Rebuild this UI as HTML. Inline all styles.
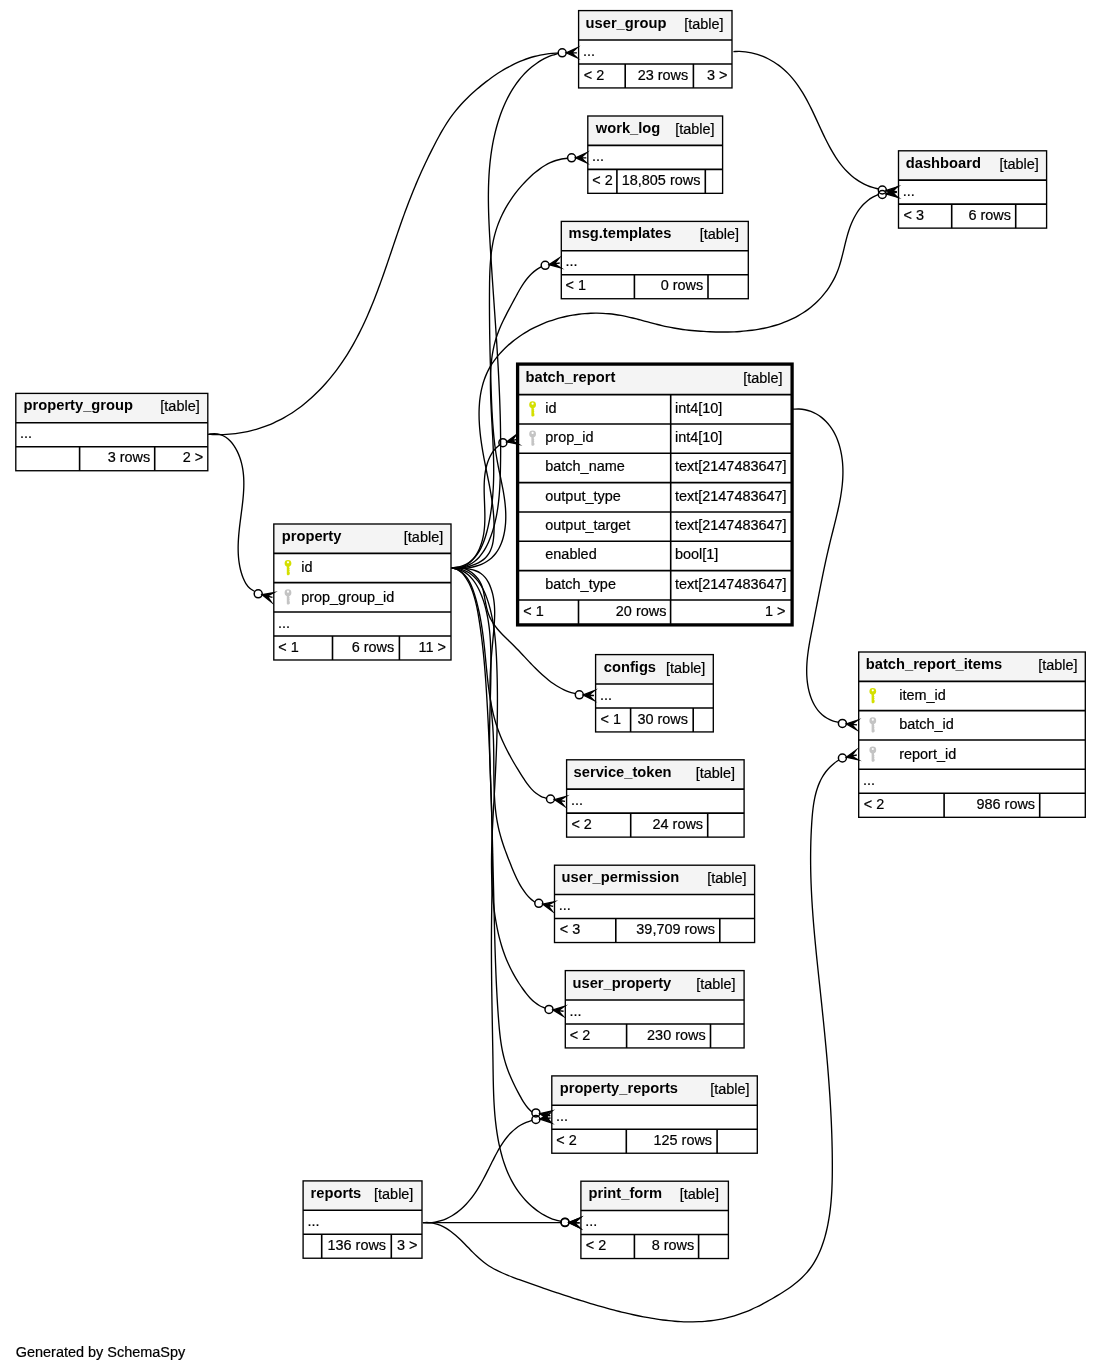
<!DOCTYPE html>
<html><head><meta charset="utf-8"><style>
html,body{margin:0;padding:0;background:#fff;}
svg{display:block;will-change:transform;}
text{font-family:"Liberation Sans",sans-serif;fill:#000;stroke:#000;stroke-width:0.2;}
text[font-weight="bold"]{stroke-width:0;}
</style></head><body>
<svg width="1101" height="1372" viewBox="0 0 1101 1372">
<rect width="1101" height="1372" fill="#fff"/>
<rect x="578.60" y="10.60" width="153.40" height="77.33" fill="#fff" stroke="none" stroke-width="0"/>
<rect x="578.60" y="10.60" width="153.40" height="29.33" fill="#f4f4f4" stroke="none" stroke-width="0"/>
<text x="585.60" y="27.60" text-anchor="start" font-size="14.7" font-weight="bold">user_group</text>
<text x="723.60" y="28.60" text-anchor="end" font-size="14.45">[table]</text>
<line x1="578.60" y1="39.93" x2="732.00" y2="39.93" stroke="#000" stroke-width="1.6"/>
<text x="582.90" y="55.63" text-anchor="start" font-size="14.45">...</text>
<line x1="578.60" y1="63.93" x2="732.00" y2="63.93" stroke="#000" stroke-width="1.6"/>
<line x1="625.20" y1="63.93" x2="625.20" y2="87.93" stroke="#000" stroke-width="1.6"/>
<line x1="693.40" y1="63.93" x2="693.40" y2="87.93" stroke="#000" stroke-width="1.6"/>
<text x="583.80" y="79.53" text-anchor="start" font-size="14.45">&lt; 2</text>
<text x="688.20" y="79.53" text-anchor="end" font-size="14.45">23 rows</text>
<text x="727.40" y="79.53" text-anchor="end" font-size="14.45">3 &gt;</text>
<rect x="578.60" y="10.60" width="153.40" height="77.33" fill="none" stroke="#000" stroke-width="1.35"/>
<rect x="587.80" y="116.00" width="134.80" height="77.33" fill="#fff" stroke="none" stroke-width="0"/>
<rect x="587.80" y="116.00" width="134.80" height="29.33" fill="#f4f4f4" stroke="none" stroke-width="0"/>
<text x="595.80" y="133.00" text-anchor="start" font-size="14.7" font-weight="bold">work_log</text>
<text x="714.60" y="134.00" text-anchor="end" font-size="14.45">[table]</text>
<line x1="587.80" y1="145.33" x2="722.60" y2="145.33" stroke="#000" stroke-width="1.6"/>
<text x="592.10" y="161.03" text-anchor="start" font-size="14.45">...</text>
<line x1="587.80" y1="169.33" x2="722.60" y2="169.33" stroke="#000" stroke-width="1.6"/>
<line x1="616.90" y1="169.33" x2="616.90" y2="193.33" stroke="#000" stroke-width="1.6"/>
<line x1="705.30" y1="169.33" x2="705.30" y2="193.33" stroke="#000" stroke-width="1.6"/>
<text x="592.30" y="184.93" text-anchor="start" font-size="14.45">&lt; 2</text>
<text x="700.40" y="184.93" text-anchor="end" font-size="14.45">18,805 rows</text>
<rect x="587.80" y="116.00" width="134.80" height="77.33" fill="none" stroke="#000" stroke-width="1.35"/>
<rect x="561.30" y="221.40" width="187.00" height="77.33" fill="#fff" stroke="none" stroke-width="0"/>
<rect x="561.30" y="221.40" width="187.00" height="29.33" fill="#f4f4f4" stroke="none" stroke-width="0"/>
<text x="568.60" y="238.40" text-anchor="start" font-size="14.7" font-weight="bold">msg.templates</text>
<text x="739.10" y="239.40" text-anchor="end" font-size="14.45">[table]</text>
<line x1="561.30" y1="250.73" x2="748.30" y2="250.73" stroke="#000" stroke-width="1.6"/>
<text x="565.60" y="266.43" text-anchor="start" font-size="14.45">...</text>
<line x1="561.30" y1="274.73" x2="748.30" y2="274.73" stroke="#000" stroke-width="1.6"/>
<line x1="634.40" y1="274.73" x2="634.40" y2="298.73" stroke="#000" stroke-width="1.6"/>
<line x1="708.00" y1="274.73" x2="708.00" y2="298.73" stroke="#000" stroke-width="1.6"/>
<text x="565.50" y="290.33" text-anchor="start" font-size="14.45">&lt; 1</text>
<text x="703.20" y="290.33" text-anchor="end" font-size="14.45">0 rows</text>
<rect x="561.30" y="221.40" width="187.00" height="77.33" fill="none" stroke="#000" stroke-width="1.35"/>
<rect x="898.50" y="150.80" width="148.10" height="77.33" fill="#fff" stroke="none" stroke-width="0"/>
<rect x="898.50" y="150.80" width="148.10" height="29.33" fill="#f4f4f4" stroke="none" stroke-width="0"/>
<text x="905.80" y="167.80" text-anchor="start" font-size="14.7" font-weight="bold">dashboard</text>
<text x="1038.80" y="168.80" text-anchor="end" font-size="14.45">[table]</text>
<line x1="898.50" y1="180.13" x2="1046.60" y2="180.13" stroke="#000" stroke-width="1.6"/>
<text x="902.80" y="195.83" text-anchor="start" font-size="14.45">...</text>
<line x1="898.50" y1="204.13" x2="1046.60" y2="204.13" stroke="#000" stroke-width="1.6"/>
<line x1="951.70" y1="204.13" x2="951.70" y2="228.13" stroke="#000" stroke-width="1.6"/>
<line x1="1015.70" y1="204.13" x2="1015.70" y2="228.13" stroke="#000" stroke-width="1.6"/>
<text x="903.60" y="219.73" text-anchor="start" font-size="14.45">&lt; 3</text>
<text x="1011.00" y="219.73" text-anchor="end" font-size="14.45">6 rows</text>
<rect x="898.50" y="150.80" width="148.10" height="77.33" fill="none" stroke="#000" stroke-width="1.35"/>
<rect x="15.80" y="393.40" width="192.00" height="77.33" fill="#fff" stroke="none" stroke-width="0"/>
<rect x="15.80" y="393.40" width="192.00" height="29.33" fill="#f4f4f4" stroke="none" stroke-width="0"/>
<text x="23.60" y="410.40" text-anchor="start" font-size="14.7" font-weight="bold">property_group</text>
<text x="199.70" y="411.40" text-anchor="end" font-size="14.45">[table]</text>
<line x1="15.80" y1="422.73" x2="207.80" y2="422.73" stroke="#000" stroke-width="1.6"/>
<text x="20.10" y="438.43" text-anchor="start" font-size="14.45">...</text>
<line x1="15.80" y1="446.73" x2="207.80" y2="446.73" stroke="#000" stroke-width="1.6"/>
<line x1="79.60" y1="446.73" x2="79.60" y2="470.73" stroke="#000" stroke-width="1.6"/>
<line x1="154.70" y1="446.73" x2="154.70" y2="470.73" stroke="#000" stroke-width="1.6"/>
<text x="150.20" y="462.33" text-anchor="end" font-size="14.45">3 rows</text>
<text x="203.20" y="462.33" text-anchor="end" font-size="14.45">2 &gt;</text>
<rect x="15.80" y="393.40" width="192.00" height="77.33" fill="none" stroke="#000" stroke-width="1.35"/>
<rect x="273.80" y="524.00" width="177.20" height="135.99" fill="#fff" stroke="none" stroke-width="0"/>
<rect x="273.80" y="524.00" width="177.20" height="29.33" fill="#f4f4f4" stroke="none" stroke-width="0"/>
<text x="281.80" y="541.00" text-anchor="start" font-size="14.7" font-weight="bold">property</text>
<text x="443.20" y="542.00" text-anchor="end" font-size="14.45">[table]</text>
<line x1="273.80" y1="553.33" x2="451.00" y2="553.33" stroke="#000" stroke-width="1.6"/>
<g fill="#d4e000"><path fill-rule="evenodd" d="M284.60,563.33 a3.4,3.4 0 1,1 6.8,0 a3.4,3.4 0 1,1 -6.8,0 z M286.90,562.33 a1.1,1.1 0 1,0 2.2,0 a1.1,1.1 0 1,0 -2.2,0 z"/><path d="M286.80,565.53 L289.20,565.53 L289.20,568.03 L289.80,568.53 L289.20,569.53 L289.80,570.53 L289.20,571.53 L289.80,572.53 L289.80,574.33 L288.60,575.13 L287.40,575.13 L286.80,574.33 z"/></g>
<text x="301.20" y="572.33" text-anchor="start" font-size="14.45">id</text>
<line x1="273.80" y1="582.66" x2="451.00" y2="582.66" stroke="#000" stroke-width="1.6"/>
<g fill="#c4c4c4"><path fill-rule="evenodd" d="M284.60,592.66 a3.4,3.4 0 1,1 6.8,0 a3.4,3.4 0 1,1 -6.8,0 z M286.90,591.66 a1.1,1.1 0 1,0 2.2,0 a1.1,1.1 0 1,0 -2.2,0 z"/><path d="M286.80,594.86 L289.20,594.86 L289.20,597.36 L289.80,597.86 L289.20,598.86 L289.80,599.86 L289.20,600.86 L289.80,601.86 L289.80,603.66 L288.60,604.46 L287.40,604.46 L286.80,603.66 z"/></g>
<text x="301.20" y="601.66" text-anchor="start" font-size="14.45">prop_group_id</text>
<line x1="273.80" y1="611.99" x2="451.00" y2="611.99" stroke="#000" stroke-width="1.6"/>
<text x="278.10" y="627.69" text-anchor="start" font-size="14.45">...</text>
<line x1="273.80" y1="635.99" x2="451.00" y2="635.99" stroke="#000" stroke-width="1.6"/>
<line x1="332.50" y1="635.99" x2="332.50" y2="659.99" stroke="#000" stroke-width="1.6"/>
<line x1="399.40" y1="635.99" x2="399.40" y2="659.99" stroke="#000" stroke-width="1.6"/>
<text x="278.20" y="651.59" text-anchor="start" font-size="14.45">&lt; 1</text>
<text x="394.20" y="651.59" text-anchor="end" font-size="14.45">6 rows</text>
<text x="446.00" y="651.59" text-anchor="end" font-size="14.45">11 &gt;</text>
<rect x="273.80" y="524.00" width="177.20" height="135.99" fill="none" stroke="#000" stroke-width="1.35"/>
<rect x="595.60" y="654.60" width="117.70" height="77.33" fill="#fff" stroke="none" stroke-width="0"/>
<rect x="595.60" y="654.60" width="117.70" height="29.33" fill="#f4f4f4" stroke="none" stroke-width="0"/>
<text x="603.80" y="671.60" text-anchor="start" font-size="14.7" font-weight="bold">configs</text>
<text x="705.40" y="672.60" text-anchor="end" font-size="14.45">[table]</text>
<line x1="595.60" y1="683.93" x2="713.30" y2="683.93" stroke="#000" stroke-width="1.6"/>
<text x="599.90" y="699.63" text-anchor="start" font-size="14.45">...</text>
<line x1="595.60" y1="707.93" x2="713.30" y2="707.93" stroke="#000" stroke-width="1.6"/>
<line x1="630.60" y1="707.93" x2="630.60" y2="731.93" stroke="#000" stroke-width="1.6"/>
<line x1="693.20" y1="707.93" x2="693.20" y2="731.93" stroke="#000" stroke-width="1.6"/>
<text x="600.50" y="723.53" text-anchor="start" font-size="14.45">&lt; 1</text>
<text x="688.00" y="723.53" text-anchor="end" font-size="14.45">30 rows</text>
<rect x="595.60" y="654.60" width="117.70" height="77.33" fill="none" stroke="#000" stroke-width="1.35"/>
<rect x="858.70" y="652.00" width="226.60" height="165.32" fill="#fff" stroke="none" stroke-width="0"/>
<rect x="858.70" y="652.00" width="226.60" height="29.33" fill="#f4f4f4" stroke="none" stroke-width="0"/>
<text x="865.80" y="669.00" text-anchor="start" font-size="14.7" font-weight="bold">batch_report_items</text>
<text x="1077.60" y="670.00" text-anchor="end" font-size="14.45">[table]</text>
<line x1="858.70" y1="681.33" x2="1085.30" y2="681.33" stroke="#000" stroke-width="1.6"/>
<g fill="#d4e000"><path fill-rule="evenodd" d="M869.40,691.33 a3.4,3.4 0 1,1 6.8,0 a3.4,3.4 0 1,1 -6.8,0 z M871.70,690.33 a1.1,1.1 0 1,0 2.2,0 a1.1,1.1 0 1,0 -2.2,0 z"/><path d="M871.60,693.53 L874.00,693.53 L874.00,696.03 L874.60,696.53 L874.00,697.53 L874.60,698.53 L874.00,699.53 L874.60,700.53 L874.60,702.33 L873.40,703.13 L872.20,703.13 L871.60,702.33 z"/></g>
<text x="899.20" y="699.93" text-anchor="start" font-size="14.45">item_id</text>
<line x1="858.70" y1="710.66" x2="1085.30" y2="710.66" stroke="#000" stroke-width="1.6"/>
<g fill="#c4c4c4"><path fill-rule="evenodd" d="M869.40,720.66 a3.4,3.4 0 1,1 6.8,0 a3.4,3.4 0 1,1 -6.8,0 z M871.70,719.66 a1.1,1.1 0 1,0 2.2,0 a1.1,1.1 0 1,0 -2.2,0 z"/><path d="M871.60,722.86 L874.00,722.86 L874.00,725.36 L874.60,725.86 L874.00,726.86 L874.60,727.86 L874.00,728.86 L874.60,729.86 L874.60,731.66 L873.40,732.46 L872.20,732.46 L871.60,731.66 z"/></g>
<text x="899.20" y="729.26" text-anchor="start" font-size="14.45">batch_id</text>
<line x1="858.70" y1="739.99" x2="1085.30" y2="739.99" stroke="#000" stroke-width="1.6"/>
<g fill="#c4c4c4"><path fill-rule="evenodd" d="M869.40,749.99 a3.4,3.4 0 1,1 6.8,0 a3.4,3.4 0 1,1 -6.8,0 z M871.70,748.99 a1.1,1.1 0 1,0 2.2,0 a1.1,1.1 0 1,0 -2.2,0 z"/><path d="M871.60,752.19 L874.00,752.19 L874.00,754.69 L874.60,755.19 L874.00,756.19 L874.60,757.19 L874.00,758.19 L874.60,759.19 L874.60,760.99 L873.40,761.79 L872.20,761.79 L871.60,760.99 z"/></g>
<text x="899.20" y="758.59" text-anchor="start" font-size="14.45">report_id</text>
<line x1="858.70" y1="769.32" x2="1085.30" y2="769.32" stroke="#000" stroke-width="1.6"/>
<text x="863.00" y="785.02" text-anchor="start" font-size="14.45">...</text>
<line x1="858.70" y1="793.32" x2="1085.30" y2="793.32" stroke="#000" stroke-width="1.6"/>
<line x1="944.10" y1="793.32" x2="944.10" y2="817.32" stroke="#000" stroke-width="1.6"/>
<line x1="1039.70" y1="793.32" x2="1039.70" y2="817.32" stroke="#000" stroke-width="1.6"/>
<text x="863.70" y="808.92" text-anchor="start" font-size="14.45">&lt; 2</text>
<text x="1035.10" y="808.92" text-anchor="end" font-size="14.45">986 rows</text>
<rect x="858.70" y="652.00" width="226.60" height="165.32" fill="none" stroke="#000" stroke-width="1.35"/>
<rect x="566.60" y="759.80" width="177.50" height="77.33" fill="#fff" stroke="none" stroke-width="0"/>
<rect x="566.60" y="759.80" width="177.50" height="29.33" fill="#f4f4f4" stroke="none" stroke-width="0"/>
<text x="573.60" y="776.80" text-anchor="start" font-size="14.7" font-weight="bold">service_token</text>
<text x="735.10" y="777.80" text-anchor="end" font-size="14.45">[table]</text>
<line x1="566.60" y1="789.13" x2="744.10" y2="789.13" stroke="#000" stroke-width="1.6"/>
<text x="570.90" y="804.83" text-anchor="start" font-size="14.45">...</text>
<line x1="566.60" y1="813.13" x2="744.10" y2="813.13" stroke="#000" stroke-width="1.6"/>
<line x1="630.70" y1="813.13" x2="630.70" y2="837.13" stroke="#000" stroke-width="1.6"/>
<line x1="707.70" y1="813.13" x2="707.70" y2="837.13" stroke="#000" stroke-width="1.6"/>
<text x="571.40" y="828.73" text-anchor="start" font-size="14.45">&lt; 2</text>
<text x="703.10" y="828.73" text-anchor="end" font-size="14.45">24 rows</text>
<rect x="566.60" y="759.80" width="177.50" height="77.33" fill="none" stroke="#000" stroke-width="1.35"/>
<rect x="554.50" y="865.20" width="200.10" height="77.33" fill="#fff" stroke="none" stroke-width="0"/>
<rect x="554.50" y="865.20" width="200.10" height="29.33" fill="#f4f4f4" stroke="none" stroke-width="0"/>
<text x="561.60" y="882.20" text-anchor="start" font-size="14.7" font-weight="bold">user_permission</text>
<text x="746.60" y="883.20" text-anchor="end" font-size="14.45">[table]</text>
<line x1="554.50" y1="894.53" x2="754.60" y2="894.53" stroke="#000" stroke-width="1.6"/>
<text x="558.80" y="910.23" text-anchor="start" font-size="14.45">...</text>
<line x1="554.50" y1="918.53" x2="754.60" y2="918.53" stroke="#000" stroke-width="1.6"/>
<line x1="615.80" y1="918.53" x2="615.80" y2="942.53" stroke="#000" stroke-width="1.6"/>
<line x1="719.80" y1="918.53" x2="719.80" y2="942.53" stroke="#000" stroke-width="1.6"/>
<text x="559.70" y="934.13" text-anchor="start" font-size="14.45">&lt; 3</text>
<text x="715.00" y="934.13" text-anchor="end" font-size="14.45">39,709 rows</text>
<rect x="554.50" y="865.20" width="200.10" height="77.33" fill="none" stroke="#000" stroke-width="1.35"/>
<rect x="565.30" y="970.60" width="178.80" height="77.33" fill="#fff" stroke="none" stroke-width="0"/>
<rect x="565.30" y="970.60" width="178.80" height="29.33" fill="#f4f4f4" stroke="none" stroke-width="0"/>
<text x="572.50" y="987.60" text-anchor="start" font-size="14.7" font-weight="bold">user_property</text>
<text x="735.50" y="988.60" text-anchor="end" font-size="14.45">[table]</text>
<line x1="565.30" y1="999.93" x2="744.10" y2="999.93" stroke="#000" stroke-width="1.6"/>
<text x="569.60" y="1015.63" text-anchor="start" font-size="14.45">...</text>
<line x1="565.30" y1="1023.93" x2="744.10" y2="1023.93" stroke="#000" stroke-width="1.6"/>
<line x1="626.60" y1="1023.93" x2="626.60" y2="1047.93" stroke="#000" stroke-width="1.6"/>
<line x1="710.50" y1="1023.93" x2="710.50" y2="1047.93" stroke="#000" stroke-width="1.6"/>
<text x="569.70" y="1039.53" text-anchor="start" font-size="14.45">&lt; 2</text>
<text x="705.70" y="1039.53" text-anchor="end" font-size="14.45">230 rows</text>
<rect x="565.30" y="970.60" width="178.80" height="77.33" fill="none" stroke="#000" stroke-width="1.35"/>
<rect x="551.80" y="1075.90" width="205.50" height="77.33" fill="#fff" stroke="none" stroke-width="0"/>
<rect x="551.80" y="1075.90" width="205.50" height="29.33" fill="#f4f4f4" stroke="none" stroke-width="0"/>
<text x="559.70" y="1092.90" text-anchor="start" font-size="14.7" font-weight="bold">property_reports</text>
<text x="749.50" y="1093.90" text-anchor="end" font-size="14.45">[table]</text>
<line x1="551.80" y1="1105.23" x2="757.30" y2="1105.23" stroke="#000" stroke-width="1.6"/>
<text x="556.10" y="1120.93" text-anchor="start" font-size="14.45">...</text>
<line x1="551.80" y1="1129.23" x2="757.30" y2="1129.23" stroke="#000" stroke-width="1.6"/>
<line x1="626.30" y1="1129.23" x2="626.30" y2="1153.23" stroke="#000" stroke-width="1.6"/>
<line x1="717.10" y1="1129.23" x2="717.10" y2="1153.23" stroke="#000" stroke-width="1.6"/>
<text x="556.30" y="1144.83" text-anchor="start" font-size="14.45">&lt; 2</text>
<text x="712.10" y="1144.83" text-anchor="end" font-size="14.45">125 rows</text>
<rect x="551.80" y="1075.90" width="205.50" height="77.33" fill="none" stroke="#000" stroke-width="1.35"/>
<rect x="303.10" y="1180.90" width="118.90" height="77.33" fill="#fff" stroke="none" stroke-width="0"/>
<rect x="303.10" y="1180.90" width="118.90" height="29.33" fill="#f4f4f4" stroke="none" stroke-width="0"/>
<text x="310.60" y="1197.90" text-anchor="start" font-size="14.7" font-weight="bold">reports</text>
<text x="413.40" y="1198.90" text-anchor="end" font-size="14.45">[table]</text>
<line x1="303.10" y1="1210.23" x2="422.00" y2="1210.23" stroke="#000" stroke-width="1.6"/>
<text x="307.40" y="1225.93" text-anchor="start" font-size="14.45">...</text>
<line x1="303.10" y1="1234.23" x2="422.00" y2="1234.23" stroke="#000" stroke-width="1.6"/>
<line x1="321.70" y1="1234.23" x2="321.70" y2="1258.23" stroke="#000" stroke-width="1.6"/>
<line x1="391.30" y1="1234.23" x2="391.30" y2="1258.23" stroke="#000" stroke-width="1.6"/>
<text x="386.10" y="1249.83" text-anchor="end" font-size="14.45">136 rows</text>
<text x="417.40" y="1249.83" text-anchor="end" font-size="14.45">3 &gt;</text>
<rect x="303.10" y="1180.90" width="118.90" height="77.33" fill="none" stroke="#000" stroke-width="1.35"/>
<rect x="580.90" y="1181.20" width="147.50" height="77.33" fill="#fff" stroke="none" stroke-width="0"/>
<rect x="580.90" y="1181.20" width="147.50" height="29.33" fill="#f4f4f4" stroke="none" stroke-width="0"/>
<text x="588.60" y="1198.20" text-anchor="start" font-size="14.7" font-weight="bold">print_form</text>
<text x="719.10" y="1199.20" text-anchor="end" font-size="14.45">[table]</text>
<line x1="580.90" y1="1210.53" x2="728.40" y2="1210.53" stroke="#000" stroke-width="1.6"/>
<text x="585.20" y="1226.23" text-anchor="start" font-size="14.45">...</text>
<line x1="580.90" y1="1234.53" x2="728.40" y2="1234.53" stroke="#000" stroke-width="1.6"/>
<line x1="634.40" y1="1234.53" x2="634.40" y2="1258.53" stroke="#000" stroke-width="1.6"/>
<line x1="698.60" y1="1234.53" x2="698.60" y2="1258.53" stroke="#000" stroke-width="1.6"/>
<text x="585.80" y="1250.13" text-anchor="start" font-size="14.45">&lt; 2</text>
<text x="694.20" y="1250.13" text-anchor="end" font-size="14.45">8 rows</text>
<rect x="580.90" y="1181.20" width="147.50" height="77.33" fill="none" stroke="#000" stroke-width="1.35"/>
<rect x="518.00" y="365.30" width="274.00" height="258.64" fill="#fff" stroke="none" stroke-width="0"/>
<rect x="518.00" y="365.30" width="274.00" height="29.33" fill="#f4f4f4" stroke="none" stroke-width="0"/>
<text x="525.50" y="382.30" text-anchor="start" font-size="14.7" font-weight="bold">batch_report</text>
<text x="782.60" y="383.30" text-anchor="end" font-size="14.45">[table]</text>
<line x1="518.00" y1="394.63" x2="792.00" y2="394.63" stroke="#000" stroke-width="1.6"/>
<g fill="#d4e000"><path fill-rule="evenodd" d="M529.20,404.63 a3.4,3.4 0 1,1 6.8,0 a3.4,3.4 0 1,1 -6.8,0 z M531.50,403.63 a1.1,1.1 0 1,0 2.2,0 a1.1,1.1 0 1,0 -2.2,0 z"/><path d="M531.40,406.83 L533.80,406.83 L533.80,409.33 L534.40,409.83 L533.80,410.83 L534.40,411.83 L533.80,412.83 L534.40,413.83 L534.40,415.63 L533.20,416.43 L532.00,416.43 L531.40,415.63 z"/></g>
<text x="545.30" y="412.73" text-anchor="start" font-size="14.45">id</text>
<text x="675.00" y="412.73" text-anchor="start" font-size="14.45">int4[10]</text>
<line x1="670.70" y1="394.63" x2="670.70" y2="423.96" stroke="#000" stroke-width="1.6"/>
<line x1="518.00" y1="423.96" x2="792.00" y2="423.96" stroke="#000" stroke-width="1.6"/>
<g fill="#c4c4c4"><path fill-rule="evenodd" d="M529.20,433.96 a3.4,3.4 0 1,1 6.8,0 a3.4,3.4 0 1,1 -6.8,0 z M531.50,432.96 a1.1,1.1 0 1,0 2.2,0 a1.1,1.1 0 1,0 -2.2,0 z"/><path d="M531.40,436.16 L533.80,436.16 L533.80,438.66 L534.40,439.16 L533.80,440.16 L534.40,441.16 L533.80,442.16 L534.40,443.16 L534.40,444.96 L533.20,445.76 L532.00,445.76 L531.40,444.96 z"/></g>
<text x="545.30" y="442.06" text-anchor="start" font-size="14.45">prop_id</text>
<text x="675.00" y="442.06" text-anchor="start" font-size="14.45">int4[10]</text>
<line x1="670.70" y1="423.96" x2="670.70" y2="453.29" stroke="#000" stroke-width="1.6"/>
<line x1="518.00" y1="453.29" x2="792.00" y2="453.29" stroke="#000" stroke-width="1.6"/>
<text x="545.30" y="471.39" text-anchor="start" font-size="14.45">batch_name</text>
<text x="675.00" y="471.39" text-anchor="start" font-size="14.45">text[2147483647]</text>
<line x1="670.70" y1="453.29" x2="670.70" y2="482.62" stroke="#000" stroke-width="1.6"/>
<line x1="518.00" y1="482.62" x2="792.00" y2="482.62" stroke="#000" stroke-width="1.6"/>
<text x="545.30" y="500.72" text-anchor="start" font-size="14.45">output_type</text>
<text x="675.00" y="500.72" text-anchor="start" font-size="14.45">text[2147483647]</text>
<line x1="670.70" y1="482.62" x2="670.70" y2="511.95" stroke="#000" stroke-width="1.6"/>
<line x1="518.00" y1="511.95" x2="792.00" y2="511.95" stroke="#000" stroke-width="1.6"/>
<text x="545.30" y="530.05" text-anchor="start" font-size="14.45">output_target</text>
<text x="675.00" y="530.05" text-anchor="start" font-size="14.45">text[2147483647]</text>
<line x1="670.70" y1="511.95" x2="670.70" y2="541.28" stroke="#000" stroke-width="1.6"/>
<line x1="518.00" y1="541.28" x2="792.00" y2="541.28" stroke="#000" stroke-width="1.6"/>
<text x="545.30" y="559.38" text-anchor="start" font-size="14.45">enabled</text>
<text x="675.00" y="559.38" text-anchor="start" font-size="14.45">bool[1]</text>
<line x1="670.70" y1="541.28" x2="670.70" y2="570.61" stroke="#000" stroke-width="1.6"/>
<line x1="518.00" y1="570.61" x2="792.00" y2="570.61" stroke="#000" stroke-width="1.6"/>
<text x="545.30" y="588.71" text-anchor="start" font-size="14.45">batch_type</text>
<text x="675.00" y="588.71" text-anchor="start" font-size="14.45">text[2147483647]</text>
<line x1="670.70" y1="570.61" x2="670.70" y2="599.94" stroke="#000" stroke-width="1.6"/>
<line x1="518.00" y1="599.94" x2="792.00" y2="599.94" stroke="#000" stroke-width="1.6"/>
<line x1="578.50" y1="599.94" x2="578.50" y2="623.94" stroke="#000" stroke-width="1.6"/>
<line x1="670.60" y1="599.94" x2="670.60" y2="623.94" stroke="#000" stroke-width="1.6"/>
<text x="523.30" y="615.54" text-anchor="start" font-size="14.45">&lt; 1</text>
<text x="666.40" y="615.54" text-anchor="end" font-size="14.45">20 rows</text>
<text x="785.40" y="615.54" text-anchor="end" font-size="14.45">1 &gt;</text>
<rect x="517.60" y="364.10" width="274.50" height="260.80" fill="none" stroke="#000" stroke-width="3.3"/>
<text x="15.80" y="1357.00" text-anchor="start" font-size="14.45">Generated by SchemaSpy</text>
<g fill="none" stroke="#000" stroke-width="1.35">
<path d="M451.80,567.90 C453.81,567.90 455.83,568.06 457.83,567.89 C459.82,567.72 461.83,567.39 463.75,566.87 C465.68,566.34 467.59,565.61 469.37,564.72 C471.16,563.82 472.88,562.72 474.46,561.50 C476.05,560.29 477.52,558.88 478.88,557.42 C480.25,555.95 481.49,554.35 482.64,552.71 C483.79,551.07 484.83,549.33 485.80,547.58 C486.77,545.82 487.64,544.01 488.46,542.17 C489.28,540.34 490.02,538.47 490.73,536.59 C491.43,534.71 492.07,532.80 492.67,530.89 C493.27,528.97 493.82,527.04 494.34,525.09 C494.85,523.15 495.31,521.19 495.74,519.23 C496.17,517.27 496.55,515.30 496.90,513.32 C497.25,511.34 497.56,509.35 497.85,507.37 C498.13,505.38 498.38,503.38 498.60,501.39 C498.83,499.39 499.02,497.39 499.19,495.39 C499.36,493.39 499.51,491.38 499.64,489.38 C499.77,487.37 499.87,485.37 499.97,483.36 C500.06,481.35 500.14,479.34 500.21,477.34 C500.27,475.33 500.33,473.32 500.38,471.31 C500.42,469.30 500.46,467.29 500.50,465.29 C500.54,463.28 500.56,461.27 500.59,459.26 C500.61,457.25 500.63,455.24 500.64,453.23 C500.65,451.22 500.65,449.21 500.65,447.21 C500.65,445.20 500.65,443.19 500.63,441.18 C500.62,439.17 500.60,437.16 500.58,435.15 C500.56,433.14 500.53,431.13 500.50,429.12 C500.47,427.12 500.43,425.11 500.39,423.10 C500.35,421.09 500.30,419.08 500.25,417.07 C500.20,415.06 500.14,413.06 500.08,411.05 C500.02,409.04 499.95,407.03 499.88,405.02 C499.82,403.02 499.74,401.01 499.67,399.00 C499.59,396.99 499.51,394.99 499.42,392.98 C499.34,390.97 499.25,388.96 499.16,386.96 C499.07,384.95 498.98,382.94 498.88,380.94 C498.78,378.93 498.68,376.92 498.58,374.92 C498.47,372.91 498.37,370.90 498.26,368.90 C498.15,366.89 498.03,364.89 497.92,362.88 C497.81,360.87 497.69,358.87 497.57,356.86 C497.45,354.86 497.33,352.85 497.21,350.85 C497.08,348.84 496.96,346.84 496.83,344.83 C496.70,342.83 496.58,340.82 496.45,338.82 C496.32,336.81 496.18,334.81 496.05,332.80 C495.92,330.80 495.78,328.79 495.65,326.79 C495.51,324.78 495.38,322.78 495.24,320.77 C495.10,318.77 494.97,316.77 494.83,314.76 C494.69,312.76 494.55,310.75 494.41,308.75 C494.27,306.74 494.14,304.74 494.00,302.74 C493.86,300.73 493.72,298.73 493.58,296.72 C493.44,294.72 493.30,292.71 493.16,290.71 C493.02,288.71 492.89,286.70 492.75,284.70 C492.61,282.69 492.47,280.69 492.34,278.68 C492.20,276.68 492.07,274.67 491.93,272.67 C491.80,270.67 491.67,268.66 491.54,266.66 C491.41,264.65 491.28,262.65 491.15,260.64 C491.02,258.64 490.89,256.63 490.77,254.63 C490.64,252.62 490.52,250.62 490.40,248.61 C490.28,246.60 490.16,244.60 490.04,242.59 C489.93,240.59 489.81,238.58 489.70,236.58 C489.59,234.57 489.48,232.56 489.38,230.56 C489.28,228.55 489.18,226.54 489.09,224.54 C489.00,222.53 488.91,220.52 488.83,218.52 C488.76,216.51 488.69,214.50 488.63,212.49 C488.57,210.48 488.52,208.47 488.48,206.47 C488.44,204.46 488.42,202.45 488.40,200.44 C488.39,198.43 488.38,196.42 488.40,194.41 C488.41,192.40 488.44,190.39 488.48,188.39 C488.52,186.38 488.58,184.37 488.66,182.36 C488.73,180.35 488.83,178.35 488.94,176.34 C489.05,174.33 489.19,172.33 489.34,170.33 C489.49,168.32 489.66,166.32 489.86,164.32 C490.06,162.32 490.27,160.33 490.52,158.33 C490.76,156.34 491.03,154.34 491.32,152.36 C491.61,150.37 491.92,148.38 492.27,146.41 C492.61,144.43 492.98,142.45 493.38,140.48 C493.78,138.51 494.20,136.55 494.66,134.59 C495.12,132.64 495.60,130.69 496.12,128.74 C496.63,126.80 497.17,124.87 497.75,122.94 C498.33,121.02 498.94,119.10 499.58,117.20 C500.23,115.30 500.91,113.41 501.62,111.53 C502.34,109.65 503.09,107.79 503.88,105.94 C504.68,104.10 505.51,102.27 506.39,100.46 C507.26,98.65 508.18,96.86 509.14,95.10 C510.10,93.34 511.11,91.59 512.16,89.89 C513.22,88.18 514.32,86.49 515.47,84.85 C516.62,83.20 517.81,81.58 519.06,80.01 C520.31,78.44 521.61,76.90 522.96,75.42 C524.31,73.93 525.71,72.48 527.16,71.10 C528.61,69.71 530.12,68.37 531.66,67.09 C533.21,65.81 534.81,64.59 536.46,63.44 C538.11,62.29 539.80,61.20 541.54,60.20 C543.28,59.20 545.07,58.27 546.89,57.43 C548.71,56.59 550.58,55.83 552.48,55.17 C554.37,54.51 556.33,54.04 558.26,53.47"/>
<path d="M451.80,567.90 C453.80,568.06 455.80,568.32 457.80,568.38 C459.81,568.45 461.82,568.41 463.82,568.28 C465.82,568.14 467.83,567.91 469.81,567.58 C471.78,567.24 473.76,566.81 475.68,566.26 C477.61,565.71 479.52,565.06 481.36,564.27 C483.20,563.48 485.02,562.58 486.72,561.52 C488.41,560.46 490.06,559.26 491.54,557.93 C493.03,556.59 494.40,555.08 495.63,553.51 C496.85,551.93 497.94,550.22 498.91,548.46 C499.88,546.71 500.70,544.86 501.43,543.00 C502.16,541.13 502.77,539.21 503.29,537.27 C503.81,535.34 504.23,533.36 504.57,531.39 C504.92,529.41 505.17,527.41 505.37,525.42 C505.56,523.42 505.68,521.41 505.74,519.40 C505.80,517.40 505.80,515.39 505.74,513.38 C505.69,511.37 505.57,509.37 505.41,507.37 C505.26,505.36 505.05,503.37 504.81,501.37 C504.56,499.38 504.27,497.39 503.96,495.41 C503.65,493.42 503.31,491.45 502.95,489.47 C502.59,487.49 502.20,485.52 501.80,483.55 C501.41,481.59 501.00,479.62 500.59,477.65 C500.18,475.69 499.76,473.72 499.35,471.76 C498.95,469.79 498.54,467.82 498.15,465.85 C497.77,463.88 497.39,461.91 497.04,459.93 C496.69,457.96 496.37,455.97 496.06,453.99 C495.75,452.01 495.47,450.02 495.20,448.03 C494.93,446.04 494.68,444.04 494.45,442.05 C494.22,440.05 494.01,438.06 493.81,436.06 C493.61,434.06 493.43,432.06 493.26,430.06 C493.09,428.06 492.93,426.06 492.79,424.05 C492.64,422.05 492.51,420.05 492.39,418.04 C492.27,416.04 492.15,414.03 492.05,412.03 C491.95,410.02 491.85,408.02 491.76,406.01 C491.67,404.00 491.59,402.00 491.51,399.99 C491.43,397.98 491.35,395.98 491.28,393.97 C491.21,391.96 491.14,389.96 491.07,387.95 C491.00,385.94 490.94,383.94 490.87,381.93 C490.81,379.92 490.75,377.91 490.68,375.91 C490.62,373.90 490.56,371.89 490.51,369.89 C490.45,367.88 490.39,365.87 490.34,363.86 C490.29,361.86 490.23,359.85 490.18,357.84 C490.14,355.83 490.09,353.83 490.04,351.82 C490.00,349.81 489.96,347.80 489.92,345.80 C489.88,343.79 489.84,341.78 489.80,339.77 C489.77,337.76 489.73,335.76 489.70,333.75 C489.67,331.74 489.65,329.73 489.62,327.72 C489.60,325.72 489.57,323.71 489.56,321.70 C489.54,319.69 489.52,317.68 489.51,315.68 C489.49,313.67 489.48,311.66 489.48,309.65 C489.47,307.64 489.47,305.64 489.46,303.63 C489.46,301.62 489.47,299.61 489.47,297.60 C489.48,295.59 489.48,293.59 489.50,291.58 C489.51,289.57 489.52,287.56 489.55,285.55 C489.57,283.55 489.59,281.54 489.64,279.53 C489.68,277.52 489.73,275.52 489.80,273.51 C489.87,271.50 489.95,269.49 490.06,267.49 C490.17,265.48 490.30,263.48 490.46,261.48 C490.62,259.48 490.80,257.48 491.02,255.48 C491.24,253.48 491.48,251.49 491.78,249.50 C492.07,247.52 492.39,245.53 492.76,243.56 C493.13,241.59 493.54,239.62 494.01,237.67 C494.47,235.71 494.98,233.77 495.54,231.84 C496.11,229.92 496.73,228.00 497.40,226.11 C498.07,224.22 498.80,222.35 499.57,220.49 C500.34,218.64 501.16,216.81 502.03,215.00 C502.90,213.19 503.82,211.40 504.78,209.63 C505.74,207.87 506.74,206.13 507.79,204.42 C508.83,202.70 509.92,201.01 511.04,199.35 C512.17,197.68 513.33,196.05 514.53,194.44 C515.73,192.83 516.97,191.24 518.24,189.69 C519.51,188.14 520.82,186.61 522.16,185.11 C523.50,183.62 524.87,182.15 526.27,180.71 C527.68,179.28 529.11,177.87 530.58,176.50 C532.05,175.14 533.55,173.80 535.10,172.52 C536.64,171.24 538.22,169.99 539.86,168.83 C541.49,167.66 543.17,166.55 544.89,165.53 C546.62,164.51 548.40,163.55 550.22,162.72 C552.04,161.88 553.92,161.13 555.82,160.51 C557.73,159.89 559.68,159.38 561.65,159.01 C563.62,158.64 565.64,158.52 567.63,158.28"/>
<path d="M451.80,567.90 C453.82,567.66 455.87,567.59 457.85,567.18 C459.83,566.76 461.81,566.18 463.67,565.40 C465.54,564.61 467.36,563.63 469.02,562.49 C470.69,561.35 472.25,559.99 473.67,558.55 C475.09,557.11 476.37,555.50 477.53,553.84 C478.70,552.19 479.73,550.41 480.67,548.61 C481.61,546.82 482.43,544.95 483.20,543.07 C483.96,541.18 484.62,539.26 485.24,537.32 C485.86,535.39 486.41,533.42 486.92,531.46 C487.44,529.49 487.90,527.51 488.34,525.53 C488.78,523.54 489.18,521.55 489.56,519.55 C489.94,517.55 490.28,515.55 490.60,513.54 C490.92,511.53 491.21,509.52 491.48,507.51 C491.75,505.49 491.98,503.47 492.20,501.45 C492.41,499.43 492.60,497.40 492.76,495.38 C492.92,493.35 493.06,491.32 493.18,489.29 C493.30,487.26 493.40,485.23 493.47,483.20 C493.55,481.17 493.61,479.13 493.65,477.10 C493.69,475.07 493.71,473.04 493.71,471.00 C493.72,468.97 493.71,466.94 493.68,464.90 C493.66,462.87 493.62,460.84 493.57,458.80 C493.52,456.77 493.46,454.74 493.39,452.71 C493.32,450.68 493.24,448.64 493.15,446.61 C493.06,444.58 492.97,442.55 492.87,440.52 C492.77,438.49 492.66,436.46 492.56,434.43 C492.45,432.40 492.34,430.37 492.22,428.34 C492.11,426.31 492.00,424.28 491.89,422.25 C491.77,420.22 491.66,418.19 491.55,416.16 C491.45,414.13 491.34,412.10 491.24,410.07 C491.14,408.04 491.05,406.01 490.96,403.97 C490.87,401.94 490.79,399.91 490.72,397.88 C490.65,395.85 490.59,393.82 490.54,391.78 C490.49,389.75 490.45,387.72 490.44,385.68 C490.42,383.65 490.42,381.62 490.45,379.59 C490.47,377.55 490.51,375.52 490.59,373.49 C490.67,371.46 490.77,369.43 490.92,367.40 C491.06,365.37 491.23,363.34 491.45,361.32 C491.67,359.30 491.92,357.28 492.22,355.27 C492.53,353.26 492.88,351.26 493.28,349.27 C493.68,347.27 494.13,345.29 494.65,343.32 C495.16,341.36 495.73,339.40 496.35,337.47 C496.98,335.53 497.67,333.62 498.40,331.72 C499.13,329.83 499.92,327.95 500.73,326.09 C501.55,324.23 502.41,322.38 503.29,320.55 C504.16,318.71 505.07,316.90 506.00,315.08 C506.92,313.27 507.87,311.47 508.82,309.68 C509.77,307.88 510.74,306.09 511.70,304.30 C512.66,302.51 513.62,300.72 514.59,298.93 C515.55,297.14 516.50,295.34 517.48,293.56 C518.47,291.78 519.45,290.00 520.50,288.26 C521.55,286.52 522.62,284.78 523.77,283.11 C524.92,281.44 526.12,279.79 527.42,278.23 C528.72,276.67 530.09,275.15 531.56,273.75 C533.03,272.36 534.59,271.03 536.24,269.85 C537.89,268.68 539.71,267.74 541.45,266.69"/>
<path d="M451.80,567.90 C453.81,567.96 455.83,568.15 457.84,568.09 C459.85,568.02 461.87,567.82 463.86,567.51 C465.84,567.21 467.83,566.78 469.76,566.24 C471.70,565.69 473.62,565.03 475.47,564.23 C477.31,563.43 479.13,562.51 480.81,561.41 C482.49,560.32 484.14,559.08 485.54,557.66 C486.95,556.25 488.22,554.62 489.25,552.91 C490.27,551.19 491.05,549.29 491.69,547.39 C492.33,545.49 492.75,543.49 493.10,541.51 C493.45,539.53 493.64,537.52 493.80,535.51 C493.96,533.50 494.01,531.48 494.05,529.47 C494.09,527.45 494.07,525.43 494.02,523.42 C493.97,521.40 493.88,519.39 493.76,517.38 C493.64,515.37 493.47,513.36 493.28,511.35 C493.09,509.34 492.87,507.34 492.62,505.34 C492.37,503.34 492.09,501.34 491.79,499.35 C491.49,497.36 491.17,495.37 490.83,493.38 C490.49,491.39 490.13,489.41 489.76,487.43 C489.40,485.45 489.01,483.47 488.62,481.49 C488.24,479.51 487.84,477.53 487.44,475.56 C487.04,473.58 486.64,471.61 486.24,469.63 C485.84,467.66 485.44,465.68 485.05,463.70 C484.66,461.72 484.28,459.75 483.91,457.76 C483.54,455.78 483.17,453.80 482.83,451.81 C482.49,449.83 482.15,447.84 481.84,445.85 C481.53,443.86 481.24,441.86 480.97,439.86 C480.70,437.87 480.45,435.87 480.23,433.86 C480.01,431.86 479.82,429.85 479.65,427.84 C479.49,425.83 479.35,423.82 479.26,421.81 C479.16,419.80 479.09,417.78 479.07,415.76 C479.05,413.75 479.06,411.73 479.12,409.72 C479.18,407.70 479.29,405.69 479.45,403.68 C479.60,401.67 479.81,399.66 480.08,397.67 C480.34,395.67 480.66,393.68 481.05,391.70 C481.44,389.72 481.88,387.75 482.40,385.80 C482.91,383.86 483.49,381.92 484.15,380.02 C484.81,378.12 485.54,376.23 486.34,374.38 C487.14,372.54 488.02,370.72 488.98,368.94 C489.93,367.17 490.96,365.43 492.06,363.74 C493.16,362.05 494.33,360.41 495.55,358.81 C496.78,357.21 498.07,355.65 499.39,354.14 C500.72,352.62 502.11,351.15 503.52,349.72 C504.94,348.29 506.41,346.90 507.90,345.55 C509.40,344.21 510.94,342.90 512.51,341.63 C514.07,340.37 515.68,339.14 517.31,337.96 C518.94,336.78 520.61,335.64 522.29,334.54 C523.98,333.44 525.70,332.38 527.44,331.37 C529.19,330.36 530.95,329.38 532.74,328.45 C534.53,327.52 536.34,326.64 538.17,325.79 C540.00,324.94 541.85,324.14 543.71,323.38 C545.58,322.61 547.46,321.89 549.36,321.21 C551.26,320.54 553.17,319.90 555.10,319.30 C557.02,318.71 558.96,318.16 560.91,317.65 C562.86,317.14 564.83,316.68 566.80,316.25 C568.77,315.83 570.75,315.45 572.74,315.12 C574.72,314.78 576.72,314.49 578.72,314.24 C580.72,313.99 582.73,313.79 584.74,313.63 C586.74,313.47 588.76,313.35 590.77,313.28 C592.79,313.20 594.80,313.17 596.82,313.19 C598.83,313.20 600.85,313.26 602.86,313.36 C604.88,313.46 606.89,313.60 608.89,313.79 C610.90,313.98 612.90,314.21 614.90,314.48 C616.90,314.76 618.89,315.08 620.87,315.44 C622.86,315.79 624.83,316.20 626.80,316.62 C628.77,317.05 630.73,317.51 632.69,317.99 C634.65,318.47 636.60,318.97 638.55,319.48 C640.50,319.99 642.45,320.52 644.39,321.04 C646.34,321.57 648.28,322.10 650.23,322.62 C652.18,323.14 654.13,323.66 656.08,324.16 C658.04,324.65 659.99,325.14 661.95,325.60 C663.92,326.05 665.89,326.48 667.86,326.89 C669.84,327.29 671.82,327.66 673.80,328.01 C675.79,328.36 677.78,328.68 679.77,328.98 C681.77,329.28 683.76,329.55 685.76,329.80 C687.76,330.04 689.77,330.27 691.77,330.47 C693.78,330.67 695.79,330.85 697.80,331.01 C699.81,331.17 701.82,331.31 703.83,331.43 C705.84,331.56 707.85,331.66 709.87,331.75 C711.88,331.84 713.90,331.91 715.91,331.96 C717.93,332.00 719.94,332.03 721.96,332.04 C723.97,332.05 725.99,332.03 728.00,331.99 C730.02,331.96 732.04,331.89 734.05,331.81 C736.06,331.72 738.08,331.60 740.09,331.46 C742.10,331.32 744.11,331.15 746.11,330.94 C748.12,330.74 750.12,330.51 752.12,330.24 C754.11,329.97 756.11,329.67 758.10,329.34 C760.08,329.00 762.07,328.63 764.04,328.22 C766.01,327.80 767.98,327.35 769.93,326.86 C771.88,326.36 773.83,325.83 775.76,325.25 C777.69,324.66 779.61,324.04 781.50,323.36 C783.40,322.69 785.29,321.97 787.15,321.19 C789.01,320.42 790.85,319.59 792.66,318.71 C794.47,317.83 796.27,316.90 798.02,315.92 C799.78,314.93 801.51,313.89 803.20,312.79 C804.89,311.70 806.55,310.54 808.16,309.34 C809.77,308.13 811.35,306.87 812.88,305.56 C814.41,304.24 815.89,302.88 817.33,301.46 C818.77,300.05 820.16,298.59 821.50,297.09 C822.84,295.58 824.13,294.03 825.37,292.44 C826.61,290.85 827.79,289.22 828.92,287.55 C830.05,285.88 831.12,284.16 832.13,282.42 C833.13,280.67 834.08,278.89 834.96,277.08 C835.83,275.27 836.64,273.41 837.39,271.54 C838.13,269.67 838.79,267.76 839.42,265.85 C840.05,263.93 840.60,261.99 841.14,260.05 C841.68,258.11 842.17,256.15 842.66,254.20 C843.15,252.24 843.60,250.28 844.08,248.32 C844.55,246.36 845.01,244.40 845.50,242.44 C845.99,240.49 846.48,238.53 847.03,236.59 C847.57,234.65 848.14,232.71 848.77,230.80 C849.40,228.89 850.07,226.98 850.81,225.11 C851.56,223.24 852.35,221.38 853.23,219.57 C854.10,217.75 855.04,215.96 856.08,214.23 C857.11,212.51 858.22,210.81 859.43,209.20 C860.64,207.60 861.94,206.04 863.34,204.59 C864.73,203.15 866.23,201.78 867.82,200.54 C869.40,199.30 871.09,198.17 872.83,197.18 C874.58,196.19 876.48,195.46 878.30,194.60"/>
<path d="M451.80,567.90 C453.81,567.89 455.86,568.15 457.83,567.88 C459.81,567.61 461.82,567.06 463.65,566.28 C465.48,565.50 467.24,564.41 468.83,563.19 C470.42,561.98 471.86,560.51 473.17,558.99 C474.47,557.47 475.62,555.78 476.67,554.07 C477.72,552.35 478.62,550.53 479.44,548.69 C480.26,546.85 480.95,544.95 481.56,543.03 C482.17,541.11 482.67,539.15 483.09,537.18 C483.51,535.21 483.82,533.21 484.08,531.22 C484.34,529.22 484.51,527.21 484.64,525.19 C484.77,523.18 484.83,521.17 484.86,519.15 C484.90,517.13 484.88,515.12 484.85,513.10 C484.82,511.09 484.75,509.07 484.68,507.06 C484.62,505.04 484.53,503.03 484.46,501.01 C484.38,499.00 484.30,496.98 484.25,494.96 C484.20,492.95 484.15,490.93 484.15,488.92 C484.15,486.90 484.17,484.88 484.25,482.87 C484.34,480.86 484.45,478.84 484.66,476.83 C484.86,474.83 485.11,472.82 485.47,470.84 C485.83,468.86 486.27,466.88 486.82,464.95 C487.38,463.02 488.03,461.09 488.82,459.24 C489.60,457.39 490.49,455.56 491.54,453.85 C492.59,452.14 493.77,450.46 495.10,448.97 C496.44,447.47 498.06,446.24 499.54,444.88"/>
<path d="M451.80,567.90 C453.80,567.70 455.80,567.22 457.79,567.29 C459.78,567.36 461.82,567.75 463.72,568.34 C465.63,568.93 467.50,569.81 469.22,570.82 C470.94,571.84 472.58,573.08 474.06,574.43 C475.53,575.78 476.90,577.31 478.08,578.93 C479.25,580.55 480.27,582.33 481.10,584.15 C481.94,585.97 482.53,587.92 483.06,589.86 C483.60,591.79 483.94,593.79 484.32,595.77 C484.70,597.75 484.97,599.74 485.35,601.72 C485.73,603.70 486.09,605.69 486.59,607.64 C487.09,609.59 487.64,611.53 488.33,613.42 C489.02,615.31 489.81,617.18 490.72,618.97 C491.63,620.76 492.68,622.49 493.80,624.16 C494.93,625.83 496.17,627.42 497.45,628.97 C498.74,630.52 500.11,632.00 501.49,633.46 C502.88,634.93 504.33,636.33 505.76,637.74 C507.20,639.16 508.67,640.53 510.11,641.94 C511.56,643.34 513.00,644.75 514.42,646.18 C515.84,647.61 517.23,649.06 518.62,650.52 C520.01,651.98 521.39,653.45 522.76,654.92 C524.14,656.39 525.51,657.87 526.89,659.34 C528.27,660.81 529.64,662.28 531.03,663.74 C532.43,665.19 533.82,666.64 535.25,668.07 C536.67,669.50 538.10,670.91 539.57,672.30 C541.03,673.68 542.51,675.04 544.04,676.36 C545.56,677.68 547.10,678.98 548.69,680.21 C550.28,681.45 551.90,682.65 553.57,683.78 C555.23,684.91 556.94,685.99 558.69,686.99 C560.43,687.99 562.22,688.93 564.05,689.77 C565.87,690.62 567.75,691.39 569.64,692.05 C571.54,692.72 573.50,693.20 575.43,693.78"/>
<path d="M451.80,567.90 C453.73,568.50 455.77,568.84 457.58,569.69 C459.39,570.54 461.13,571.69 462.65,572.99 C464.18,574.28 465.53,575.85 466.74,577.45 C467.95,579.06 468.97,580.84 469.91,582.62 C470.85,584.41 471.64,586.29 472.38,588.16 C473.13,590.04 473.76,591.97 474.38,593.90 C474.99,595.82 475.54,597.77 476.08,599.72 C476.62,601.67 477.13,603.63 477.61,605.60 C478.09,607.56 478.54,609.53 478.97,611.51 C479.40,613.49 479.80,615.47 480.18,617.46 C480.56,619.45 480.91,621.44 481.25,623.43 C481.58,625.43 481.89,627.43 482.19,629.43 C482.49,631.43 482.76,633.43 483.03,635.44 C483.29,637.45 483.53,639.45 483.77,641.46 C484.00,643.47 484.22,645.48 484.44,647.50 C484.65,649.51 484.85,651.52 485.05,653.54 C485.25,655.55 485.44,657.56 485.63,659.58 C485.82,661.59 486.01,663.61 486.20,665.62 C486.40,667.63 486.59,669.65 486.79,671.66 C486.99,673.67 487.19,675.69 487.41,677.70 C487.63,679.71 487.85,681.72 488.09,683.73 C488.33,685.74 488.58,687.75 488.86,689.75 C489.13,691.76 489.42,693.76 489.73,695.76 C490.04,697.76 490.37,699.75 490.73,701.74 C491.09,703.73 491.47,705.72 491.89,707.70 C492.30,709.68 492.74,711.66 493.22,713.62 C493.70,715.59 494.21,717.55 494.76,719.49 C495.31,721.44 495.89,723.38 496.52,725.30 C497.14,727.23 497.81,729.14 498.52,731.03 C499.22,732.93 499.97,734.81 500.74,736.68 C501.52,738.55 502.33,740.40 503.17,742.24 C504.01,744.08 504.88,745.91 505.78,747.72 C506.67,749.54 507.60,751.34 508.54,753.13 C509.49,754.91 510.46,756.69 511.45,758.46 C512.43,760.22 513.44,761.98 514.47,763.72 C515.49,765.46 516.53,767.20 517.59,768.92 C518.65,770.65 519.72,772.37 520.80,774.08 C521.88,775.79 522.96,777.50 524.08,779.19 C525.20,780.87 526.31,782.57 527.52,784.18 C528.73,785.80 529.97,787.42 531.34,788.89 C532.71,790.37 534.17,791.82 535.75,793.05 C537.34,794.29 539.06,795.43 540.86,796.32 C542.65,797.21 544.65,797.70 546.55,798.40"/>
<path d="M451.80,567.90 C453.81,567.91 455.81,567.86 457.82,567.92 C459.82,567.98 461.83,568.06 463.82,568.26 C465.82,568.46 467.82,568.71 469.78,569.12 C471.73,569.54 473.71,570.02 475.57,570.75 C477.42,571.48 479.29,572.35 480.91,573.49 C482.53,574.62 484.03,576.05 485.30,577.57 C486.58,579.09 487.61,580.86 488.55,582.62 C489.49,584.39 490.24,586.27 490.92,588.15 C491.61,590.03 492.17,591.97 492.65,593.91 C493.12,595.86 493.49,597.84 493.79,599.82 C494.09,601.80 494.29,603.80 494.44,605.80 C494.58,607.80 494.64,609.81 494.67,611.81 C494.69,613.82 494.65,615.83 494.58,617.83 C494.51,619.83 494.39,621.84 494.26,623.84 C494.13,625.84 493.97,627.84 493.80,629.84 C493.63,631.84 493.45,633.84 493.27,635.83 C493.09,637.83 492.90,639.83 492.72,641.83 C492.54,643.82 492.35,645.82 492.17,647.82 C491.99,649.82 491.81,651.82 491.64,653.81 C491.48,655.81 491.31,657.81 491.16,659.81 C491.01,661.81 490.86,663.81 490.73,665.82 C490.61,667.82 490.49,669.82 490.39,671.82 C490.29,673.83 490.21,675.83 490.15,677.84 C490.09,679.84 490.05,681.85 490.03,683.85 C490.01,685.86 490.02,687.87 490.05,689.87 C490.08,691.88 490.14,693.88 490.23,695.89 C490.32,697.89 490.44,699.89 490.58,701.89 C490.72,703.89 490.90,705.89 491.08,707.89 C491.26,709.89 491.47,711.88 491.66,713.88 C491.85,715.88 492.06,717.87 492.23,719.87 C492.41,721.87 492.58,723.87 492.73,725.87 C492.87,727.87 492.99,729.87 493.10,731.88 C493.21,733.88 493.30,735.88 493.37,737.89 C493.45,739.89 493.51,741.90 493.56,743.90 C493.61,745.91 493.65,747.91 493.68,749.92 C493.72,751.92 493.74,753.93 493.76,755.94 C493.78,757.94 493.79,759.95 493.80,761.95 C493.81,763.96 493.82,765.97 493.83,767.97 C493.84,769.98 493.85,771.98 493.86,773.99 C493.88,776.00 493.90,778.00 493.93,780.01 C493.96,782.01 493.99,784.02 494.05,786.02 C494.10,788.03 494.16,790.04 494.24,792.04 C494.32,794.04 494.42,796.05 494.54,798.05 C494.66,800.05 494.80,802.05 494.96,804.05 C495.13,806.05 495.32,808.05 495.54,810.04 C495.76,812.04 496.01,814.03 496.29,816.01 C496.58,818.00 496.90,819.98 497.26,821.95 C497.62,823.93 498.02,825.89 498.46,827.85 C498.90,829.81 499.38,831.75 499.90,833.69 C500.42,835.63 500.98,837.56 501.56,839.48 C502.15,841.39 502.77,843.30 503.41,845.20 C504.05,847.10 504.72,849.00 505.40,850.88 C506.09,852.77 506.79,854.64 507.51,856.52 C508.23,858.39 508.96,860.26 509.70,862.12 C510.44,863.99 511.18,865.85 511.95,867.71 C512.71,869.56 513.48,871.41 514.29,873.25 C515.10,875.08 515.92,876.92 516.80,878.72 C517.69,880.52 518.59,882.31 519.58,884.06 C520.56,885.81 521.58,887.54 522.69,889.20 C523.80,890.87 524.97,892.51 526.24,894.06 C527.50,895.61 528.84,897.13 530.29,898.51 C531.73,899.89 533.37,901.07 534.91,902.35"/>
<path d="M451.80,567.90 C453.81,568.08 455.85,568.08 457.82,568.44 C459.79,568.80 461.77,569.32 463.64,570.04 C465.51,570.76 467.34,571.69 469.03,572.76 C470.72,573.83 472.33,575.11 473.80,576.47 C475.27,577.83 476.61,579.36 477.86,580.94 C479.10,582.52 480.21,584.22 481.25,585.94 C482.28,587.67 483.21,589.47 484.07,591.29 C484.92,593.11 485.69,594.99 486.41,596.87 C487.12,598.75 487.76,600.67 488.37,602.59 C488.97,604.51 489.51,606.46 490.02,608.41 C490.53,610.35 491.00,612.32 491.43,614.29 C491.87,616.25 492.26,618.23 492.63,620.21 C493.00,622.19 493.33,624.18 493.63,626.18 C493.94,628.17 494.21,630.17 494.46,632.17 C494.71,634.17 494.92,636.17 495.12,638.18 C495.32,640.18 495.50,642.19 495.65,644.20 C495.81,646.21 495.95,648.22 496.07,650.23 C496.20,652.25 496.30,654.26 496.41,656.27 C496.51,658.29 496.59,660.30 496.68,662.31 C496.76,664.33 496.83,666.34 496.90,668.36 C496.97,670.37 497.03,672.39 497.09,674.40 C497.14,676.42 497.19,678.43 497.23,680.45 C497.27,682.46 497.30,684.48 497.33,686.49 C497.36,688.51 497.38,690.53 497.40,692.54 C497.41,694.56 497.42,696.57 497.43,698.59 C497.43,700.60 497.43,702.62 497.42,704.64 C497.41,706.65 497.40,708.67 497.38,710.68 C497.36,712.70 497.34,714.72 497.31,716.73 C497.28,718.75 497.25,720.76 497.21,722.78 C497.17,724.79 497.13,726.81 497.08,728.82 C497.04,730.84 496.99,732.85 496.93,734.87 C496.87,736.88 496.81,738.90 496.75,740.91 C496.69,742.93 496.62,744.94 496.55,746.96 C496.48,748.97 496.40,750.99 496.32,753.00 C496.24,755.02 496.16,757.03 496.08,759.04 C495.99,761.06 495.90,763.07 495.81,765.09 C495.72,767.10 495.63,769.11 495.53,771.13 C495.43,773.14 495.33,775.15 495.23,777.17 C495.13,779.18 495.03,781.19 494.92,783.21 C494.82,785.22 494.71,787.23 494.60,789.25 C494.49,791.26 494.38,793.27 494.26,795.28 C494.15,797.30 494.04,799.31 493.92,801.32 C493.81,803.33 493.69,805.35 493.57,807.36 C493.46,809.37 493.35,811.38 493.23,813.40 C493.12,815.41 493.01,817.42 492.91,819.44 C492.80,821.45 492.69,823.46 492.60,825.48 C492.50,827.49 492.40,829.50 492.31,831.52 C492.22,833.53 492.14,835.54 492.06,837.56 C491.98,839.57 491.91,841.59 491.85,843.60 C491.78,845.62 491.73,847.63 491.68,849.65 C491.64,851.66 491.60,853.68 491.57,855.69 C491.54,857.71 491.52,859.73 491.52,861.74 C491.51,863.76 491.52,865.77 491.54,867.79 C491.56,869.80 491.59,871.82 491.63,873.84 C491.68,875.85 491.74,877.87 491.81,879.88 C491.88,881.89 491.97,883.91 492.08,885.92 C492.18,887.93 492.31,889.95 492.45,891.96 C492.59,893.97 492.74,895.98 492.92,897.99 C493.09,900.00 493.29,902.00 493.50,904.01 C493.72,906.01 493.95,908.01 494.21,910.01 C494.47,912.01 494.74,914.01 495.04,916.00 C495.34,918.00 495.66,919.99 496.01,921.97 C496.36,923.96 496.72,925.94 497.12,927.92 C497.52,929.89 497.94,931.86 498.39,933.83 C498.85,935.79 499.33,937.75 499.85,939.70 C500.36,941.65 500.91,943.59 501.50,945.52 C502.08,947.44 502.70,949.36 503.36,951.27 C504.02,953.17 504.71,955.07 505.45,956.94 C506.18,958.82 506.96,960.68 507.77,962.53 C508.58,964.37 509.44,966.20 510.33,968.01 C511.22,969.82 512.14,971.61 513.11,973.38 C514.07,975.15 515.07,976.90 516.11,978.63 C517.14,980.36 518.21,982.07 519.31,983.75 C520.42,985.44 521.56,987.11 522.73,988.74 C523.90,990.38 525.10,992.01 526.36,993.58 C527.61,995.16 528.89,996.73 530.28,998.19 C531.66,999.64 533.11,1001.07 534.67,1002.33 C536.24,1003.59 537.91,1004.77 539.66,1005.73 C541.42,1006.70 543.36,1007.32 545.21,1008.11"/>
<path d="M451.80,567.90 C453.73,568.46 455.82,568.69 457.58,569.58 C459.34,570.47 460.95,571.84 462.37,573.24 C463.78,574.65 464.95,576.35 466.06,578.03 C467.18,579.70 468.12,581.50 469.03,583.30 C469.94,585.10 470.76,586.95 471.51,588.82 C472.27,590.69 472.94,592.60 473.56,594.51 C474.18,596.43 474.73,598.38 475.25,600.33 C475.76,602.28 476.21,604.25 476.64,606.22 C477.07,608.19 477.44,610.17 477.81,612.16 C478.17,614.14 478.50,616.13 478.83,618.13 C479.15,620.12 479.46,622.11 479.76,624.11 C480.06,626.10 480.35,628.10 480.62,630.10 C480.90,632.10 481.17,634.10 481.42,636.10 C481.68,638.10 481.93,640.10 482.16,642.11 C482.40,644.11 482.63,646.12 482.84,648.12 C483.06,650.13 483.27,652.14 483.47,654.14 C483.67,656.15 483.87,658.16 484.05,660.17 C484.24,662.18 484.42,664.19 484.59,666.20 C484.76,668.21 484.92,670.22 485.08,672.23 C485.24,674.24 485.39,676.26 485.54,678.27 C485.69,680.28 485.83,682.29 485.97,684.31 C486.10,686.32 486.24,688.33 486.37,690.35 C486.49,692.36 486.62,694.38 486.74,696.39 C486.86,698.40 486.98,700.42 487.10,702.43 C487.21,704.45 487.33,706.46 487.44,708.48 C487.55,710.49 487.66,712.51 487.76,714.52 C487.87,716.54 487.98,718.55 488.08,720.57 C488.18,722.58 488.28,724.60 488.38,726.61 C488.48,728.63 488.58,730.64 488.67,732.66 C488.77,734.68 488.86,736.69 488.95,738.71 C489.04,740.72 489.13,742.74 489.22,744.76 C489.31,746.77 489.40,748.79 489.48,750.80 C489.57,752.82 489.65,754.84 489.73,756.85 C489.81,758.87 489.89,760.88 489.97,762.90 C490.05,764.92 490.12,766.93 490.20,768.95 C490.27,770.97 490.35,772.98 490.42,775.00 C490.49,777.02 490.56,779.03 490.63,781.05 C490.70,783.07 490.77,785.08 490.84,787.10 C490.91,789.12 490.97,791.13 491.04,793.15 C491.10,795.17 491.17,797.18 491.23,799.20 C491.29,801.22 491.35,803.23 491.42,805.25 C491.48,807.27 491.54,809.29 491.59,811.30 C491.65,813.32 491.71,815.34 491.77,817.35 C491.83,819.37 491.88,821.39 491.94,823.40 C491.99,825.42 492.05,827.44 492.10,829.46 C492.15,831.47 492.21,833.49 492.26,835.51 C492.31,837.53 492.37,839.54 492.42,841.56 C492.47,843.58 492.52,845.59 492.57,847.61 C492.62,849.63 492.67,851.65 492.72,853.66 C492.77,855.68 492.82,857.70 492.87,859.72 C492.92,861.73 492.96,863.75 493.01,865.77 C493.06,867.78 493.11,869.80 493.16,871.82 C493.20,873.84 493.25,875.85 493.30,877.87 C493.35,879.89 493.39,881.91 493.44,883.92 C493.49,885.94 493.53,887.96 493.58,889.97 C493.63,891.99 493.68,894.01 493.72,896.03 C493.77,898.04 493.82,900.06 493.87,902.08 C493.91,904.10 493.96,906.11 494.01,908.13 C494.06,910.15 494.11,912.17 494.15,914.18 C494.20,916.20 494.25,918.22 494.30,920.23 C494.35,922.25 494.40,924.27 494.45,926.29 C494.50,928.30 494.55,930.32 494.60,932.34 C494.66,934.36 494.71,936.37 494.77,938.39 C494.82,940.41 494.88,942.42 494.93,944.44 C494.99,946.46 495.05,948.48 495.11,950.49 C495.18,952.51 495.24,954.53 495.31,956.54 C495.37,958.56 495.44,960.58 495.51,962.59 C495.58,964.61 495.66,966.63 495.74,968.64 C495.81,970.66 495.89,972.67 495.98,974.69 C496.06,976.71 496.15,978.72 496.24,980.74 C496.33,982.75 496.43,984.77 496.53,986.79 C496.63,988.80 496.73,990.82 496.84,992.83 C496.95,994.85 497.06,996.86 497.18,998.88 C497.29,1000.89 497.42,1002.90 497.54,1004.92 C497.67,1006.93 497.80,1008.95 497.94,1010.96 C498.08,1012.97 498.22,1014.98 498.37,1017.00 C498.52,1019.01 498.68,1021.02 498.84,1023.03 C499.01,1025.04 499.17,1027.05 499.37,1029.06 C499.56,1031.07 499.76,1033.08 499.99,1035.08 C500.22,1037.09 500.47,1039.09 500.75,1041.09 C501.04,1043.09 501.35,1045.08 501.70,1047.07 C502.05,1049.06 502.43,1051.04 502.86,1053.01 C503.30,1054.98 503.77,1056.94 504.29,1058.89 C504.81,1060.84 505.39,1062.78 506.01,1064.70 C506.62,1066.62 507.29,1068.52 508.00,1070.41 C508.71,1072.30 509.46,1074.18 510.24,1076.04 C511.02,1077.90 511.84,1079.74 512.68,1081.57 C513.53,1083.41 514.41,1085.22 515.31,1087.03 C516.21,1088.83 517.14,1090.62 518.09,1092.40 C519.04,1094.18 520.00,1095.96 521.01,1097.71 C522.01,1099.46 523.00,1101.23 524.11,1102.91 C525.22,1104.59 526.37,1106.26 527.69,1107.78 C529.00,1109.30 530.56,1110.61 532.00,1112.02"/>
<path d="M451.80,567.90 C453.77,568.28 455.80,568.46 457.70,569.04 C459.61,569.62 461.49,570.41 463.24,571.37 C464.98,572.33 466.64,573.52 468.16,574.81 C469.68,576.10 471.08,577.57 472.36,579.11 C473.65,580.64 474.79,582.30 475.86,583.99 C476.93,585.68 477.88,587.46 478.78,589.26 C479.67,591.05 480.46,592.90 481.22,594.75 C481.97,596.61 482.66,598.50 483.30,600.40 C483.94,602.30 484.52,604.22 485.06,606.15 C485.60,608.08 486.09,610.03 486.53,611.98 C486.98,613.94 487.37,615.91 487.74,617.88 C488.10,619.85 488.41,621.83 488.70,623.82 C488.98,625.80 489.23,627.79 489.45,629.79 C489.67,631.78 489.85,633.78 490.01,635.78 C490.17,637.77 490.31,639.78 490.42,641.78 C490.53,643.78 490.62,645.78 490.69,647.79 C490.76,649.79 490.81,651.80 490.85,653.80 C490.89,655.81 490.92,657.81 490.93,659.82 C490.95,661.83 490.95,663.83 490.95,665.84 C490.94,667.84 490.93,669.85 490.91,671.85 C490.89,673.86 490.86,675.86 490.83,677.87 C490.80,679.87 490.76,681.88 490.72,683.88 C490.67,685.89 490.62,687.89 490.57,689.90 C490.52,691.90 490.47,693.91 490.41,695.91 C490.36,697.92 490.30,699.92 490.24,701.93 C490.19,703.93 490.13,705.94 490.08,707.94 C490.02,709.95 489.97,711.95 489.92,713.96 C489.87,715.96 489.82,717.97 489.78,719.97 C489.74,721.98 489.70,723.98 489.67,725.99 C489.64,727.99 489.61,730.00 489.60,732.00 C489.58,734.01 489.57,736.01 489.57,738.02 C489.57,740.03 489.58,742.03 489.60,744.04 C489.62,746.04 489.65,748.05 489.68,750.05 C489.71,752.06 489.76,754.06 489.80,756.07 C489.85,758.07 489.90,760.08 489.96,762.08 C490.01,764.09 490.08,766.09 490.14,768.10 C490.20,770.10 490.27,772.11 490.34,774.11 C490.41,776.12 490.48,778.12 490.55,780.12 C490.62,782.13 490.69,784.13 490.77,786.14 C490.84,788.14 490.91,790.15 490.98,792.15 C491.06,794.15 491.13,796.16 491.20,798.16 C491.27,800.17 491.34,802.17 491.41,804.18 C491.47,806.18 491.54,808.18 491.60,810.19 C491.67,812.19 491.73,814.20 491.78,816.20 C491.84,818.21 491.90,820.21 491.95,822.22 C492.00,824.22 492.05,826.23 492.09,828.23 C492.13,830.24 492.17,832.24 492.20,834.25 C492.24,836.25 492.26,838.26 492.29,840.26 C492.31,842.27 492.33,844.27 492.34,846.28 C492.35,848.29 492.36,850.29 492.36,852.30 C492.36,854.30 492.36,856.31 492.35,858.31 C492.34,860.32 492.33,862.32 492.32,864.33 C492.31,866.34 492.29,868.34 492.27,870.35 C492.25,872.35 492.23,874.36 492.21,876.36 C492.18,878.37 492.16,880.37 492.13,882.38 C492.10,884.38 492.07,886.39 492.04,888.39 C492.01,890.40 491.98,892.41 491.95,894.41 C491.92,896.42 491.88,898.42 491.85,900.43 C491.82,902.43 491.79,904.44 491.76,906.44 C491.73,908.45 491.70,910.45 491.67,912.46 C491.64,914.46 491.61,916.47 491.59,918.47 C491.57,920.48 491.54,922.49 491.52,924.49 C491.50,926.50 491.48,928.50 491.47,930.51 C491.45,932.51 491.44,934.52 491.43,936.52 C491.43,938.53 491.42,940.54 491.42,942.54 C491.41,944.55 491.41,946.55 491.42,948.56 C491.42,950.56 491.42,952.57 491.43,954.57 C491.44,956.58 491.45,958.59 491.46,960.59 C491.47,962.60 491.49,964.60 491.50,966.61 C491.52,968.61 491.54,970.62 491.56,972.62 C491.58,974.63 491.60,976.63 491.62,978.64 C491.64,980.65 491.67,982.65 491.69,984.66 C491.72,986.66 491.75,988.67 491.78,990.67 C491.81,992.68 491.84,994.68 491.87,996.69 C491.90,998.69 491.93,1000.70 491.96,1002.70 C491.99,1004.71 492.03,1006.71 492.06,1008.72 C492.10,1010.73 492.13,1012.73 492.17,1014.74 C492.20,1016.74 492.24,1018.75 492.27,1020.75 C492.31,1022.76 492.34,1024.76 492.38,1026.77 C492.42,1028.77 492.45,1030.78 492.49,1032.78 C492.52,1034.79 492.56,1036.79 492.59,1038.80 C492.63,1040.80 492.66,1042.81 492.70,1044.81 C492.73,1046.82 492.77,1048.82 492.80,1050.83 C492.83,1052.84 492.86,1054.84 492.90,1056.85 C492.93,1058.85 492.96,1060.86 492.99,1062.86 C493.02,1064.87 493.04,1066.87 493.07,1068.88 C493.10,1070.88 493.13,1072.89 493.16,1074.89 C493.19,1076.90 493.23,1078.90 493.27,1080.91 C493.31,1082.92 493.36,1084.92 493.41,1086.92 C493.46,1088.93 493.52,1090.93 493.60,1092.94 C493.67,1094.94 493.75,1096.95 493.84,1098.95 C493.93,1100.95 494.04,1102.96 494.16,1104.96 C494.28,1106.96 494.41,1108.96 494.56,1110.96 C494.71,1112.96 494.88,1114.96 495.07,1116.96 C495.25,1118.95 495.46,1120.95 495.69,1122.94 C495.92,1124.93 496.16,1126.92 496.44,1128.91 C496.71,1130.90 497.01,1132.88 497.33,1134.86 C497.65,1136.84 498.00,1138.82 498.38,1140.79 C498.76,1142.75 499.16,1144.72 499.60,1146.68 C500.04,1148.63 500.50,1150.59 501.00,1152.53 C501.51,1154.47 502.04,1156.40 502.61,1158.32 C503.19,1160.24 503.80,1162.16 504.45,1164.05 C505.11,1165.95 505.80,1167.83 506.55,1169.69 C507.29,1171.55 508.08,1173.40 508.93,1175.22 C509.77,1177.04 510.66,1178.84 511.60,1180.61 C512.55,1182.37 513.54,1184.12 514.60,1185.82 C515.65,1187.53 516.75,1189.21 517.91,1190.85 C519.07,1192.48 520.28,1194.09 521.54,1195.64 C522.80,1197.20 524.11,1198.72 525.48,1200.19 C526.84,1201.66 528.25,1203.09 529.72,1204.45 C531.18,1205.82 532.70,1207.14 534.26,1208.40 C535.83,1209.65 537.44,1210.85 539.11,1211.96 C540.77,1213.08 542.48,1214.14 544.23,1215.11 C545.99,1216.07 547.79,1216.97 549.63,1217.76 C551.47,1218.56 553.35,1219.27 555.26,1219.87 C557.17,1220.47 559.15,1220.87 561.09,1221.37"/>
<path d="M208.30,434.30 C210.32,434.40 212.33,434.56 214.35,434.61 C216.37,434.67 218.40,434.69 220.42,434.65 C222.44,434.62 224.46,434.54 226.47,434.42 C228.49,434.30 230.51,434.13 232.51,433.92 C234.52,433.71 236.53,433.46 238.53,433.16 C240.53,432.86 242.52,432.52 244.50,432.13 C246.49,431.75 248.46,431.32 250.43,430.84 C252.39,430.37 254.35,429.85 256.29,429.29 C258.23,428.73 260.16,428.13 262.07,427.48 C263.98,426.83 265.89,426.14 267.77,425.40 C269.65,424.66 271.51,423.88 273.36,423.05 C275.20,422.23 277.03,421.36 278.83,420.45 C280.63,419.54 282.42,418.58 284.18,417.59 C285.94,416.60 287.68,415.57 289.39,414.50 C291.11,413.43 292.80,412.33 294.47,411.19 C296.14,410.06 297.79,408.88 299.41,407.68 C301.03,406.48 302.63,405.24 304.21,403.97 C305.78,402.71 307.34,401.41 308.86,400.09 C310.39,398.77 311.90,397.42 313.38,396.04 C314.86,394.67 316.31,393.26 317.75,391.84 C319.18,390.41 320.59,388.96 321.97,387.49 C323.36,386.02 324.72,384.53 326.06,383.01 C327.39,381.50 328.71,379.96 330.00,378.41 C331.29,376.86 332.56,375.28 333.81,373.69 C335.05,372.10 336.27,370.49 337.47,368.86 C338.67,367.23 339.85,365.59 341.00,363.93 C342.15,362.27 343.28,360.60 344.39,358.91 C345.50,357.22 346.59,355.51 347.66,353.80 C348.72,352.08 349.77,350.35 350.79,348.61 C351.82,346.87 352.82,345.11 353.80,343.35 C354.79,341.58 355.75,339.81 356.70,338.02 C357.64,336.24 358.57,334.44 359.48,332.64 C360.39,330.83 361.28,329.02 362.16,327.20 C363.04,325.38 363.90,323.55 364.74,321.71 C365.58,319.88 366.41,318.03 367.23,316.18 C368.04,314.33 368.84,312.48 369.63,310.62 C370.42,308.76 371.19,306.89 371.96,305.02 C372.72,303.15 373.47,301.27 374.21,299.39 C374.95,297.51 375.68,295.63 376.40,293.74 C377.13,291.85 377.84,289.96 378.54,288.06 C379.24,286.17 379.94,284.27 380.63,282.37 C381.32,280.47 382.00,278.57 382.67,276.67 C383.35,274.76 384.02,272.85 384.68,270.95 C385.35,269.04 386.01,267.13 386.67,265.22 C387.32,263.31 387.98,261.39 388.63,259.48 C389.28,257.57 389.93,255.65 390.58,253.74 C391.22,251.83 391.87,249.91 392.52,248.00 C393.17,246.08 393.81,244.17 394.46,242.25 C395.11,240.34 395.76,238.43 396.41,236.51 C397.07,234.60 397.72,232.69 398.38,230.78 C399.04,228.87 399.70,226.96 400.37,225.05 C401.04,223.14 401.71,221.24 402.39,219.34 C403.07,217.43 403.75,215.53 404.44,213.63 C405.13,211.73 405.83,209.84 406.54,207.94 C407.25,206.05 407.96,204.16 408.69,202.27 C409.42,200.39 410.15,198.51 410.89,196.63 C411.64,194.75 412.39,192.87 413.16,191.00 C413.92,189.13 414.69,187.26 415.47,185.40 C416.26,183.54 417.05,181.68 417.85,179.82 C418.65,177.97 419.47,176.12 420.29,174.27 C421.11,172.43 421.94,170.58 422.78,168.75 C423.63,166.91 424.48,165.08 425.34,163.25 C426.20,161.42 427.08,159.60 427.96,157.78 C428.84,155.96 429.73,154.15 430.64,152.34 C431.54,150.54 432.46,148.73 433.38,146.94 C434.30,145.14 435.24,143.35 436.18,141.56 C437.13,139.78 438.08,137.99 439.05,136.22 C440.03,134.45 441.01,132.69 442.03,130.94 C443.04,129.19 444.07,127.45 445.13,125.73 C446.20,124.02 447.29,122.31 448.42,120.64 C449.54,118.96 450.71,117.30 451.90,115.68 C453.10,114.05 454.34,112.45 455.61,110.88 C456.88,109.31 458.19,107.77 459.52,106.25 C460.85,104.73 462.22,103.24 463.61,101.77 C465.00,100.31 466.42,98.87 467.87,97.46 C469.31,96.04 470.78,94.65 472.27,93.29 C473.76,91.92 475.27,90.58 476.81,89.27 C478.34,87.95 479.89,86.65 481.46,85.38 C483.03,84.11 484.61,82.85 486.22,81.62 C487.82,80.39 489.44,79.19 491.08,78.00 C492.72,76.82 494.38,75.67 496.06,74.54 C497.73,73.42 499.43,72.32 501.15,71.26 C502.87,70.19 504.61,69.16 506.37,68.17 C508.13,67.18 509.91,66.22 511.71,65.30 C513.51,64.39 515.33,63.51 517.18,62.68 C519.02,61.85 520.88,61.06 522.76,60.33 C524.64,59.59 526.54,58.90 528.46,58.26 C530.38,57.63 532.32,57.04 534.27,56.52 C536.22,55.99 538.18,55.52 540.16,55.11 C542.14,54.70 544.13,54.34 546.13,54.06 C548.13,53.77 550.14,53.54 552.16,53.38 C554.17,53.22 556.19,53.19 558.21,53.09"/>
<path d="M208.30,434.30 C210.32,434.07 212.35,433.55 214.36,433.60 C216.38,433.65 218.47,433.96 220.38,434.57 C222.30,435.18 224.18,436.14 225.86,437.25 C227.55,438.37 229.09,439.78 230.48,441.25 C231.88,442.72 233.11,444.38 234.24,446.07 C235.36,447.76 236.35,449.57 237.25,451.39 C238.15,453.22 238.94,455.11 239.64,457.03 C240.34,458.94 240.94,460.90 241.45,462.87 C241.97,464.84 242.38,466.85 242.72,468.86 C243.05,470.86 243.30,472.90 243.48,474.93 C243.66,476.96 243.76,479.00 243.81,481.04 C243.86,483.07 243.84,485.12 243.79,487.16 C243.73,489.19 243.62,491.23 243.48,493.27 C243.34,495.30 243.16,497.34 242.96,499.37 C242.76,501.40 242.53,503.42 242.29,505.45 C242.05,507.47 241.78,509.50 241.52,511.52 C241.26,513.54 240.99,515.57 240.73,517.59 C240.47,519.61 240.20,521.64 239.96,523.66 C239.71,525.69 239.47,527.71 239.26,529.74 C239.05,531.77 238.85,533.80 238.68,535.83 C238.52,537.87 238.38,539.90 238.29,541.94 C238.20,543.98 238.14,546.02 238.14,548.06 C238.14,550.10 238.18,552.14 238.29,554.18 C238.40,556.21 238.56,558.25 238.81,560.27 C239.05,562.30 239.36,564.32 239.76,566.32 C240.15,568.32 240.62,570.31 241.19,572.27 C241.76,574.22 242.37,576.18 243.16,578.06 C243.94,579.93 244.80,581.83 245.90,583.52 C247.00,585.22 248.29,586.88 249.78,588.23 C251.27,589.58 253.16,590.49 254.85,591.62"/>
<path d="M733.40,51.60 C735.42,51.54 737.44,51.37 739.46,51.41 C741.48,51.44 743.50,51.59 745.51,51.82 C747.51,52.06 749.51,52.40 751.49,52.83 C753.46,53.25 755.42,53.78 757.35,54.38 C759.27,54.98 761.18,55.68 763.05,56.45 C764.91,57.22 766.75,58.07 768.55,58.99 C770.35,59.91 772.11,60.91 773.83,61.98 C775.54,63.05 777.22,64.19 778.84,65.39 C780.46,66.59 782.04,67.86 783.56,69.19 C785.09,70.52 786.56,71.91 787.97,73.35 C789.39,74.79 790.75,76.29 792.06,77.83 C793.37,79.37 794.63,80.95 795.85,82.57 C797.06,84.18 798.23,85.84 799.35,87.51 C800.48,89.19 801.56,90.90 802.61,92.63 C803.66,94.36 804.67,96.11 805.66,97.87 C806.64,99.64 807.60,101.42 808.53,103.22 C809.46,105.01 810.37,106.82 811.26,108.63 C812.16,110.44 813.03,112.27 813.89,114.09 C814.76,115.92 815.61,117.76 816.46,119.59 C817.31,121.42 818.15,123.26 818.99,125.10 C819.84,126.94 820.68,128.77 821.54,130.60 C822.40,132.44 823.25,134.27 824.13,136.09 C825.01,137.91 825.90,139.72 826.81,141.53 C827.73,143.33 828.66,145.13 829.62,146.90 C830.59,148.68 831.57,150.45 832.60,152.19 C833.63,153.93 834.68,155.65 835.79,157.34 C836.90,159.03 838.04,160.70 839.24,162.33 C840.44,163.96 841.68,165.56 842.99,167.10 C844.29,168.64 845.65,170.14 847.07,171.58 C848.49,173.02 849.97,174.40 851.51,175.71 C853.05,177.01 854.65,178.26 856.31,179.41 C857.97,180.56 859.69,181.64 861.45,182.62 C863.22,183.60 865.04,184.50 866.89,185.29 C868.75,186.09 870.65,186.79 872.58,187.40 C874.50,188.02 876.48,188.44 878.44,188.96"/>
<path d="M792.90,409.20 C794.93,409.13 796.97,408.91 798.99,408.99 C801.01,409.08 803.06,409.32 805.04,409.73 C807.03,410.13 809.00,410.70 810.90,411.40 C812.80,412.11 814.66,412.99 816.42,413.98 C818.19,414.97 819.89,416.12 821.49,417.36 C823.10,418.60 824.62,419.97 826.03,421.43 C827.45,422.88 828.77,424.44 829.99,426.07 C831.20,427.69 832.31,429.41 833.33,431.16 C834.35,432.92 835.27,434.74 836.10,436.59 C836.94,438.44 837.68,440.35 838.34,442.27 C839.01,444.19 839.58,446.14 840.09,448.11 C840.60,450.08 841.03,452.07 841.40,454.07 C841.76,456.06 842.06,458.08 842.29,460.10 C842.52,462.12 842.69,464.15 842.79,466.18 C842.90,468.21 842.94,470.24 842.94,472.28 C842.93,474.31 842.87,476.34 842.76,478.37 C842.65,480.40 842.49,482.43 842.29,484.45 C842.09,486.48 841.85,488.50 841.58,490.51 C841.30,492.53 840.99,494.54 840.65,496.54 C840.31,498.54 839.94,500.54 839.55,502.54 C839.16,504.53 838.74,506.52 838.30,508.51 C837.87,510.50 837.42,512.48 836.95,514.46 C836.49,516.44 836.01,518.41 835.52,520.39 C835.04,522.36 834.54,524.34 834.04,526.31 C833.55,528.28 833.04,530.25 832.55,532.22 C832.05,534.19 831.55,536.16 831.06,538.14 C830.57,540.11 830.09,542.09 829.61,544.06 C829.14,546.04 828.67,548.02 828.21,550.00 C827.75,551.98 827.30,553.96 826.85,555.95 C826.41,557.93 825.97,559.92 825.53,561.90 C825.10,563.89 824.67,565.88 824.25,567.87 C823.83,569.86 823.41,571.85 823.00,573.84 C822.59,575.83 822.18,577.82 821.78,579.81 C821.37,581.81 820.97,583.80 820.57,585.79 C820.18,587.79 819.78,589.78 819.39,591.78 C819.00,593.77 818.61,595.77 818.22,597.76 C817.83,599.76 817.45,601.76 817.06,603.75 C816.68,605.75 816.29,607.75 815.91,609.74 C815.52,611.74 815.14,613.74 814.75,615.73 C814.37,617.73 813.98,619.73 813.59,621.72 C813.21,623.72 812.82,625.71 812.43,627.71 C812.04,629.70 811.64,631.70 811.25,633.69 C810.87,635.69 810.48,637.69 810.11,639.69 C809.75,641.69 809.39,643.69 809.06,645.70 C808.73,647.70 808.41,649.71 808.14,651.72 C807.86,653.74 807.60,655.76 807.40,657.78 C807.19,659.80 807.02,661.83 806.90,663.86 C806.78,665.89 806.70,667.92 806.69,669.95 C806.68,671.99 806.71,674.02 806.82,676.05 C806.93,678.08 807.10,680.11 807.35,682.13 C807.60,684.14 807.91,686.16 808.31,688.15 C808.72,690.14 809.19,692.13 809.78,694.07 C810.36,696.01 811.02,697.95 811.81,699.82 C812.60,701.69 813.49,703.53 814.51,705.28 C815.53,707.03 816.67,708.75 817.95,710.32 C819.22,711.89 820.64,713.39 822.16,714.71 C823.69,716.04 825.37,717.24 827.11,718.26 C828.86,719.28 830.74,720.13 832.64,720.82 C834.55,721.50 836.57,721.85 838.53,722.37"/>
<path d="M422.90,1222.60 L561.00,1222.60"/>
<path d="M422.90,1222.60 C424.93,1222.65 426.96,1222.83 428.98,1222.75 C431.00,1222.68 433.03,1222.46 435.02,1222.12 C437.01,1221.78 439.00,1221.31 440.93,1220.71 C442.86,1220.12 444.77,1219.39 446.62,1218.56 C448.46,1217.74 450.27,1216.78 452.01,1215.75 C453.75,1214.72 455.44,1213.58 457.06,1212.38 C458.69,1211.17 460.26,1209.87 461.76,1208.52 C463.27,1207.17 464.72,1205.74 466.11,1204.27 C467.50,1202.80 468.82,1201.26 470.10,1199.69 C471.38,1198.11 472.60,1196.49 473.77,1194.84 C474.95,1193.19 476.07,1191.50 477.16,1189.79 C478.25,1188.08 479.29,1186.34 480.31,1184.59 C481.33,1182.84 482.31,1181.06 483.28,1179.28 C484.24,1177.50 485.18,1175.70 486.11,1173.89 C487.04,1172.09 487.94,1170.28 488.85,1168.47 C489.76,1166.65 490.65,1164.83 491.56,1163.02 C492.47,1161.21 493.37,1159.39 494.30,1157.59 C495.23,1155.79 496.17,1153.99 497.15,1152.22 C498.13,1150.44 499.13,1148.68 500.18,1146.95 C501.24,1145.22 502.32,1143.50 503.48,1141.84 C504.64,1140.18 505.84,1138.54 507.13,1136.98 C508.42,1135.42 509.77,1133.89 511.21,1132.47 C512.65,1131.04 514.16,1129.68 515.76,1128.44 C517.36,1127.20 519.04,1126.04 520.79,1125.03 C522.54,1124.01 524.37,1123.11 526.24,1122.35 C528.11,1121.58 530.09,1121.08 532.01,1120.44"/>
<path d="M422.90,1222.60 C424.90,1222.61 426.92,1222.45 428.91,1222.62 C430.90,1222.78 432.89,1223.09 434.83,1223.56 C436.77,1224.03 438.68,1224.68 440.53,1225.44 C442.37,1226.20 444.17,1227.13 445.89,1228.13 C447.62,1229.13 449.28,1230.27 450.89,1231.45 C452.51,1232.63 454.05,1233.91 455.57,1235.22 C457.09,1236.52 458.55,1237.90 459.99,1239.28 C461.44,1240.66 462.85,1242.09 464.25,1243.51 C465.66,1244.94 467.04,1246.39 468.44,1247.82 C469.84,1249.25 471.23,1250.70 472.64,1252.11 C474.06,1253.53 475.48,1254.94 476.95,1256.30 C478.42,1257.67 479.90,1259.01 481.44,1260.29 C482.98,1261.57 484.56,1262.80 486.20,1263.96 C487.83,1265.11 489.52,1266.20 491.23,1267.23 C492.94,1268.26 494.70,1269.22 496.48,1270.15 C498.26,1271.07 500.07,1271.93 501.89,1272.76 C503.71,1273.59 505.56,1274.36 507.41,1275.13 C509.26,1275.89 511.13,1276.61 513.00,1277.32 C514.87,1278.04 516.75,1278.72 518.63,1279.41 C520.51,1280.10 522.39,1280.78 524.28,1281.46 C526.16,1282.13 528.05,1282.80 529.93,1283.47 C531.82,1284.14 533.71,1284.80 535.60,1285.46 C537.49,1286.12 539.38,1286.78 541.28,1287.43 C543.17,1288.09 545.06,1288.73 546.96,1289.38 C548.85,1290.03 550.75,1290.67 552.65,1291.31 C554.54,1291.94 556.44,1292.58 558.34,1293.21 C560.24,1293.85 562.14,1294.48 564.04,1295.10 C565.95,1295.73 567.85,1296.35 569.75,1296.97 C571.66,1297.59 573.56,1298.20 575.47,1298.81 C577.38,1299.42 579.28,1300.03 581.20,1300.63 C583.11,1301.22 585.02,1301.82 586.93,1302.40 C588.85,1302.99 590.76,1303.57 592.68,1304.14 C594.60,1304.71 596.52,1305.28 598.45,1305.83 C600.37,1306.39 602.29,1306.93 604.22,1307.47 C606.15,1308.01 608.08,1308.54 610.02,1309.06 C611.95,1309.58 613.89,1310.09 615.83,1310.59 C617.76,1311.08 619.71,1311.57 621.65,1312.05 C623.60,1312.52 625.54,1312.99 627.49,1313.44 C629.44,1313.89 631.40,1314.33 633.35,1314.76 C635.31,1315.18 637.27,1315.60 639.23,1316.00 C641.19,1316.39 643.16,1316.78 645.13,1317.15 C647.09,1317.51 649.07,1317.87 651.04,1318.20 C653.01,1318.53 654.99,1318.85 656.97,1319.14 C658.95,1319.44 660.93,1319.72 662.92,1319.97 C664.91,1320.22 666.90,1320.45 668.89,1320.66 C670.88,1320.87 672.87,1321.05 674.87,1321.21 C676.86,1321.36 678.86,1321.49 680.86,1321.59 C682.86,1321.70 684.86,1321.77 686.86,1321.81 C688.87,1321.86 690.87,1321.87 692.87,1321.85 C694.87,1321.83 696.87,1321.77 698.87,1321.68 C700.87,1321.59 702.87,1321.47 704.87,1321.31 C706.86,1321.15 708.86,1320.95 710.84,1320.71 C712.83,1320.47 714.82,1320.19 716.79,1319.87 C718.77,1319.55 720.74,1319.19 722.70,1318.79 C724.66,1318.38 726.61,1317.94 728.55,1317.44 C730.49,1316.95 732.42,1316.41 734.34,1315.83 C736.25,1315.25 738.16,1314.62 740.04,1313.96 C741.93,1313.29 743.80,1312.58 745.66,1311.84 C747.52,1311.10 749.37,1310.32 751.20,1309.51 C753.03,1308.70 754.85,1307.85 756.65,1306.99 C758.45,1306.12 760.24,1305.22 762.02,1304.30 C763.80,1303.38 765.56,1302.43 767.32,1301.46 C769.07,1300.50 770.81,1299.51 772.54,1298.51 C774.28,1297.50 776.00,1296.48 777.71,1295.44 C779.42,1294.40 781.12,1293.35 782.81,1292.26 C784.49,1291.18 786.16,1290.08 787.81,1288.94 C789.46,1287.80 791.09,1286.64 792.69,1285.43 C794.28,1284.23 795.86,1282.99 797.39,1281.70 C798.92,1280.41 800.42,1279.08 801.87,1277.70 C803.31,1276.31 804.72,1274.88 806.06,1273.40 C807.40,1271.91 808.69,1270.37 809.90,1268.78 C811.11,1267.19 812.25,1265.54 813.33,1263.85 C814.40,1262.16 815.41,1260.43 816.36,1258.67 C817.31,1256.91 818.19,1255.10 819.02,1253.28 C819.85,1251.46 820.62,1249.61 821.34,1247.74 C822.06,1245.88 822.72,1243.98 823.35,1242.08 C823.97,1240.18 824.55,1238.26 825.08,1236.33 C825.62,1234.40 826.11,1232.46 826.57,1230.51 C827.03,1228.57 827.45,1226.61 827.84,1224.64 C828.23,1222.68 828.58,1220.71 828.91,1218.73 C829.24,1216.76 829.54,1214.78 829.81,1212.79 C830.08,1210.81 830.32,1208.82 830.54,1206.83 C830.76,1204.84 830.95,1202.85 831.12,1200.86 C831.29,1198.86 831.44,1196.86 831.57,1194.87 C831.70,1192.87 831.81,1190.87 831.90,1188.87 C831.99,1186.87 832.06,1184.87 832.12,1182.87 C832.18,1180.87 832.22,1178.86 832.26,1176.86 C832.29,1174.86 832.31,1172.86 832.32,1170.86 C832.34,1168.85 832.34,1166.85 832.33,1164.85 C832.33,1162.85 832.32,1160.85 832.30,1158.84 C832.29,1156.84 832.26,1154.84 832.23,1152.84 C832.20,1150.84 832.17,1148.83 832.12,1146.83 C832.08,1144.83 832.03,1142.83 831.98,1140.83 C831.92,1138.83 831.86,1136.82 831.80,1134.82 C831.73,1132.82 831.66,1130.82 831.58,1128.82 C831.51,1126.82 831.42,1124.82 831.34,1122.82 C831.25,1120.82 831.15,1118.82 831.06,1116.82 C830.96,1114.82 830.86,1112.82 830.75,1110.82 C830.64,1108.82 830.53,1106.82 830.41,1104.82 C830.29,1102.83 830.17,1100.83 830.05,1098.83 C829.92,1096.83 829.79,1094.83 829.66,1092.84 C829.52,1090.84 829.38,1088.84 829.24,1086.84 C829.10,1084.85 828.95,1082.85 828.80,1080.85 C828.65,1078.86 828.50,1076.86 828.34,1074.86 C828.18,1072.87 828.02,1070.87 827.86,1068.88 C827.70,1066.88 827.53,1064.89 827.36,1062.89 C827.19,1060.90 827.02,1058.90 826.84,1056.91 C826.66,1054.91 826.48,1052.92 826.30,1050.93 C826.12,1048.93 825.94,1046.94 825.75,1044.95 C825.56,1042.95 825.38,1040.96 825.18,1038.97 C824.99,1036.97 824.80,1034.98 824.61,1032.99 C824.41,1030.99 824.21,1029.00 824.01,1027.01 C823.82,1025.02 823.61,1023.03 823.41,1021.03 C823.21,1019.04 823.01,1017.05 822.80,1015.06 C822.60,1013.07 822.39,1011.08 822.18,1009.08 C821.97,1007.09 821.76,1005.10 821.56,1003.11 C821.35,1001.12 821.13,999.13 820.92,997.14 C820.71,995.15 820.50,993.16 820.29,991.17 C820.07,989.17 819.86,987.18 819.65,985.19 C819.44,983.20 819.22,981.21 819.01,979.22 C818.80,977.23 818.58,975.24 818.37,973.25 C818.16,971.26 817.95,969.27 817.74,967.28 C817.53,965.28 817.32,963.29 817.12,961.30 C816.91,959.31 816.71,957.32 816.50,955.33 C816.30,953.33 816.10,951.34 815.91,949.35 C815.71,947.36 815.52,945.36 815.33,943.37 C815.13,941.38 814.95,939.38 814.76,937.39 C814.58,935.40 814.40,933.40 814.23,931.41 C814.05,929.41 813.88,927.42 813.71,925.42 C813.55,923.43 813.39,921.43 813.23,919.44 C813.07,917.44 812.92,915.45 812.78,913.45 C812.63,911.45 812.49,909.45 812.36,907.46 C812.23,905.46 812.10,903.46 811.98,901.46 C811.86,899.46 811.75,897.46 811.64,895.47 C811.53,893.47 811.44,891.47 811.34,889.47 C811.25,887.47 811.17,885.47 811.09,883.47 C811.02,881.46 810.95,879.46 810.89,877.46 C810.83,875.46 810.78,873.46 810.74,871.46 C810.70,869.46 810.67,867.45 810.65,865.45 C810.62,863.45 810.61,861.45 810.61,859.45 C810.60,857.44 810.61,855.44 810.63,853.44 C810.64,851.44 810.67,849.44 810.71,847.43 C810.75,845.43 810.79,843.43 810.85,841.43 C810.91,839.43 810.98,837.43 811.07,835.43 C811.15,833.43 811.24,831.43 811.35,829.43 C811.45,827.43 811.57,825.43 811.70,823.43 C811.83,821.43 811.97,819.44 812.13,817.44 C812.29,815.44 812.47,813.45 812.68,811.46 C812.90,809.47 813.14,807.48 813.42,805.50 C813.71,803.52 814.03,801.54 814.41,799.57 C814.80,797.61 815.22,795.65 815.73,793.71 C816.23,791.78 816.79,789.85 817.44,787.96 C818.09,786.07 818.80,784.19 819.62,782.37 C820.44,780.54 821.34,778.74 822.35,777.02 C823.36,775.29 824.46,773.61 825.66,772.01 C826.86,770.42 828.17,768.88 829.56,767.45 C830.95,766.01 832.44,764.66 834.00,763.41 C835.55,762.16 837.26,761.09 838.90,759.93"/>
<circle cx="562.20" cy="52.80" r="4.0" stroke-width="1.5"/>
<circle cx="571.60" cy="157.80" r="4.0" stroke-width="1.5"/>
<circle cx="545.20" cy="265.30" r="4.0" stroke-width="1.5"/>
<circle cx="882.30" cy="194.50" r="4.0" stroke-width="1.5"/>
<circle cx="882.30" cy="190.00" r="4.0" stroke-width="1.5"/>
<circle cx="502.90" cy="442.70" r="4.0" stroke-width="1.5"/>
<circle cx="258.20" cy="593.80" r="4.0" stroke-width="1.5"/>
<circle cx="579.30" cy="694.80" r="4.0" stroke-width="1.5"/>
<circle cx="550.50" cy="799.00" r="4.0" stroke-width="1.5"/>
<circle cx="538.80" cy="903.30" r="4.0" stroke-width="1.5"/>
<circle cx="549.00" cy="1009.40" r="4.0" stroke-width="1.5"/>
<circle cx="535.90" cy="1112.90" r="4.0" stroke-width="1.5"/>
<circle cx="535.90" cy="1119.50" r="4.0" stroke-width="1.5"/>
<circle cx="565.00" cy="1222.20" r="4.0" stroke-width="1.5"/>
<circle cx="565.00" cy="1222.60" r="4.0" stroke-width="1.5"/>
<circle cx="842.40" cy="723.40" r="4.0" stroke-width="1.5"/>
<circle cx="842.40" cy="758.00" r="4.0" stroke-width="1.5"/>
<polygon fill="#000" stroke-miterlimit="10" points="566.20,52.80 576.90,48.00 571.55,52.80 576.90,52.80 571.55,52.80 576.90,57.60 566.20,52.80"/>
<polygon fill="#000" stroke-miterlimit="10" points="575.60,157.80 586.30,153.00 580.95,157.80 586.30,157.80 580.95,157.80 586.30,162.60 575.60,157.80"/>
<polygon fill="#000" stroke-miterlimit="10" points="549.15,264.68 558.97,258.27 554.44,263.84 559.72,263.01 554.44,263.84 560.47,267.75 549.15,264.68"/>
<polygon fill="#000" stroke-miterlimit="10" points="886.26,193.93 896.17,187.67 891.56,193.18 896.85,192.42 891.56,193.18 897.53,197.17 886.26,193.93"/>
<polygon fill="#000" stroke-miterlimit="10" points="886.27,190.45 897.45,186.90 891.59,191.06 896.90,191.67 891.59,191.06 896.36,196.44 886.27,190.45"/>
<polygon fill="#000" stroke-miterlimit="10" points="506.80,441.81 516.17,434.76 512.02,440.63 517.23,439.44 512.02,440.63 518.30,444.12 506.80,441.81"/>
<polygon fill="#000" stroke-miterlimit="10" points="262.08,594.77 273.63,592.71 267.27,596.07 272.46,597.37 267.27,596.07 271.30,602.02 262.08,594.77"/>
<polygon fill="#000" stroke-miterlimit="10" points="583.30,694.98 594.20,690.67 588.64,695.22 593.98,695.47 588.64,695.22 593.77,700.26 583.30,694.98"/>
<polygon fill="#000" stroke-miterlimit="10" points="554.45,799.63 565.77,796.59 559.73,800.48 565.01,801.33 559.73,800.48 564.25,806.07 554.45,799.63"/>
<polygon fill="#000" stroke-miterlimit="10" points="542.71,904.14 554.18,901.69 547.94,905.26 553.17,906.38 547.94,905.26 552.17,911.07 542.71,904.14"/>
<polygon fill="#000" stroke-miterlimit="10" points="552.97,1009.91 564.19,1006.50 558.27,1010.59 563.58,1011.27 558.27,1010.59 562.97,1016.03 552.97,1009.91"/>
<polygon fill="#000" stroke-miterlimit="10" points="539.82,1113.68 551.26,1111.08 545.07,1114.73 550.31,1115.78 545.07,1114.73 549.37,1120.49 539.82,1113.68"/>
<polygon fill="#000" stroke-miterlimit="10" points="539.88,1119.09 550.03,1113.22 545.20,1118.54 550.52,1118.00 545.20,1118.54 551.01,1122.77 539.88,1119.09"/>
<polygon fill="#000" stroke-miterlimit="10" points="569.00,1222.38 579.91,1218.08 574.34,1222.63 579.68,1222.88 574.34,1222.63 579.46,1227.67 569.00,1222.38"/>
<polygon fill="#000" stroke-miterlimit="10" points="569.00,1222.69 579.81,1218.14 574.35,1222.82 579.70,1222.94 574.35,1222.82 579.59,1227.74 569.00,1222.69"/>
<polygon fill="#000" stroke-miterlimit="10" points="846.38,723.82 857.52,720.17 851.70,724.38 857.02,724.94 851.70,724.38 856.52,729.71 846.38,723.82"/>
<polygon fill="#000" stroke-miterlimit="10" points="846.31,757.18 855.80,750.27 851.55,756.07 856.78,754.97 851.55,756.07 857.77,759.67 846.31,757.18"/>
</g>
</svg>
</body></html>
